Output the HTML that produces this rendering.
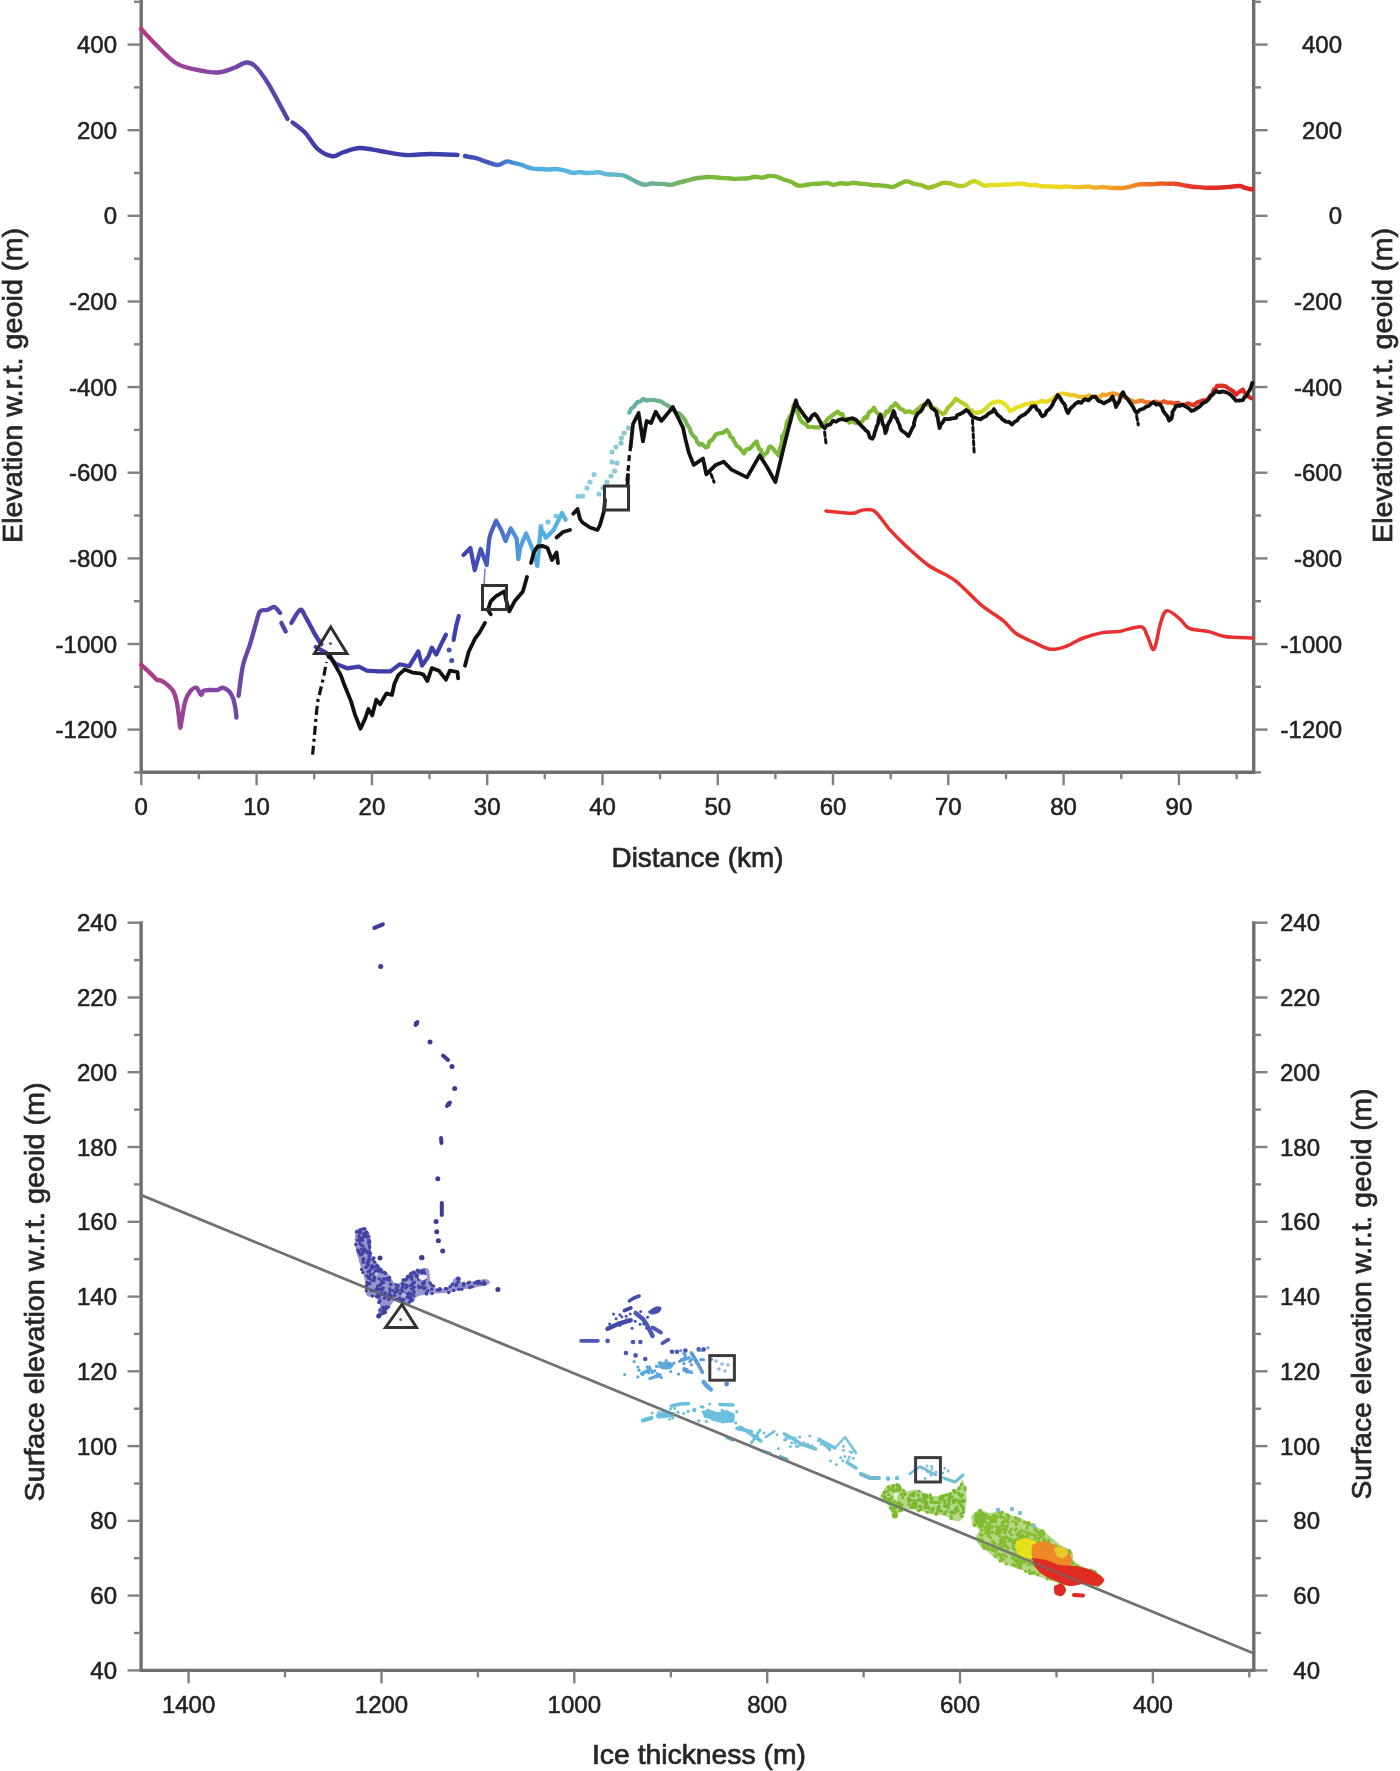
<!DOCTYPE html>
<html><head><meta charset="utf-8"><style>
html,body{margin:0;padding:0;background:#fff;}
svg{display:block;filter:blur(0.7px);}
.tl{font-family:"Liberation Sans", sans-serif;font-size:24px;fill:#222;stroke:#222;stroke-width:0.55px;}
.ti{font-family:"Liberation Sans", sans-serif;font-size:28px;fill:#262626;stroke:#262626;stroke-width:0.7px;}
</style></head><body>
<svg width="1400" height="1771" viewBox="0 0 1400 1771">
<defs><linearGradient id="rb" gradientUnits="userSpaceOnUse" x1="140" y1="0" x2="1253" y2="0"><stop offset="0.0000" stop-color="#b63882"/><stop offset="0.0180" stop-color="#a83e8e"/><stop offset="0.0449" stop-color="#9444a0"/><stop offset="0.0719" stop-color="#8044a6"/><stop offset="0.0943" stop-color="#6c46aa"/><stop offset="0.1348" stop-color="#5042aa"/><stop offset="0.1707" stop-color="#3e3ca6"/><stop offset="0.2875" stop-color="#3c40ac"/><stop offset="0.3127" stop-color="#4858bc"/><stop offset="0.3279" stop-color="#4878d0"/><stop offset="0.3459" stop-color="#50a6e0"/><stop offset="0.3774" stop-color="#54b4e2"/><stop offset="0.4088" stop-color="#60bcd8"/><stop offset="0.4358" stop-color="#62b4b8"/><stop offset="0.4627" stop-color="#6cb094"/><stop offset="0.4897" stop-color="#76b458"/><stop offset="0.5166" stop-color="#7ab83a"/><stop offset="0.6828" stop-color="#84ba30"/><stop offset="0.7278" stop-color="#a6c42a"/><stop offset="0.7592" stop-color="#d8dc22"/><stop offset="0.7727" stop-color="#e6e020"/><stop offset="0.8266" stop-color="#ecd820"/><stop offset="0.8580" stop-color="#f0b02a"/><stop offset="0.8940" stop-color="#f08424"/><stop offset="0.9209" stop-color="#ea5a22"/><stop offset="0.9479" stop-color="#e23428"/><stop offset="1.0000" stop-color="#e02424"/></linearGradient></defs>
<rect width="1400" height="1771" fill="#fff"/>
<line x1="141.2" y1="0" x2="141.2" y2="774" stroke="#6e6e6e" stroke-width="3.4"/>
<line x1="1253.7" y1="0" x2="1253.7" y2="774" stroke="#6e6e6e" stroke-width="3.4"/>
<line x1="139.5" y1="772.2" x2="1255.4" y2="772.2" stroke="#6e6e6e" stroke-width="3.4"/>
<line x1="134" y1="772.4" x2="141" y2="772.4" stroke="#808080" stroke-width="2.4"/>
<line x1="1254" y1="772.4" x2="1261" y2="772.4" stroke="#808080" stroke-width="2.4"/>
<line x1="127.5" y1="729.6" x2="141" y2="729.6" stroke="#808080" stroke-width="2.4"/>
<line x1="1254" y1="729.6" x2="1267.5" y2="729.6" stroke="#808080" stroke-width="2.4"/>
<text x="117" y="738.1" text-anchor="end" class="tl">-1200</text>
<text x="1342" y="738.1" text-anchor="end" class="tl">-1200</text>
<line x1="134" y1="686.8" x2="141" y2="686.8" stroke="#808080" stroke-width="2.4"/>
<line x1="1254" y1="686.8" x2="1261" y2="686.8" stroke="#808080" stroke-width="2.4"/>
<line x1="127.5" y1="644.0" x2="141" y2="644.0" stroke="#808080" stroke-width="2.4"/>
<line x1="1254" y1="644.0" x2="1267.5" y2="644.0" stroke="#808080" stroke-width="2.4"/>
<text x="117" y="652.5" text-anchor="end" class="tl">-1000</text>
<text x="1342" y="652.5" text-anchor="end" class="tl">-1000</text>
<line x1="134" y1="601.2" x2="141" y2="601.2" stroke="#808080" stroke-width="2.4"/>
<line x1="1254" y1="601.2" x2="1261" y2="601.2" stroke="#808080" stroke-width="2.4"/>
<line x1="127.5" y1="558.4" x2="141" y2="558.4" stroke="#808080" stroke-width="2.4"/>
<line x1="1254" y1="558.4" x2="1267.5" y2="558.4" stroke="#808080" stroke-width="2.4"/>
<text x="117" y="566.9" text-anchor="end" class="tl">-800</text>
<text x="1342" y="566.9" text-anchor="end" class="tl">-800</text>
<line x1="134" y1="515.5" x2="141" y2="515.5" stroke="#808080" stroke-width="2.4"/>
<line x1="1254" y1="515.5" x2="1261" y2="515.5" stroke="#808080" stroke-width="2.4"/>
<line x1="127.5" y1="472.7" x2="141" y2="472.7" stroke="#808080" stroke-width="2.4"/>
<line x1="1254" y1="472.7" x2="1267.5" y2="472.7" stroke="#808080" stroke-width="2.4"/>
<text x="117" y="481.2" text-anchor="end" class="tl">-600</text>
<text x="1342" y="481.2" text-anchor="end" class="tl">-600</text>
<line x1="134" y1="429.9" x2="141" y2="429.9" stroke="#808080" stroke-width="2.4"/>
<line x1="1254" y1="429.9" x2="1261" y2="429.9" stroke="#808080" stroke-width="2.4"/>
<line x1="127.5" y1="387.1" x2="141" y2="387.1" stroke="#808080" stroke-width="2.4"/>
<line x1="1254" y1="387.1" x2="1267.5" y2="387.1" stroke="#808080" stroke-width="2.4"/>
<text x="117" y="395.6" text-anchor="end" class="tl">-400</text>
<text x="1342" y="395.6" text-anchor="end" class="tl">-400</text>
<line x1="134" y1="344.3" x2="141" y2="344.3" stroke="#808080" stroke-width="2.4"/>
<line x1="1254" y1="344.3" x2="1261" y2="344.3" stroke="#808080" stroke-width="2.4"/>
<line x1="127.5" y1="301.5" x2="141" y2="301.5" stroke="#808080" stroke-width="2.4"/>
<line x1="1254" y1="301.5" x2="1267.5" y2="301.5" stroke="#808080" stroke-width="2.4"/>
<text x="117" y="310.0" text-anchor="end" class="tl">-200</text>
<text x="1342" y="310.0" text-anchor="end" class="tl">-200</text>
<line x1="134" y1="258.7" x2="141" y2="258.7" stroke="#808080" stroke-width="2.4"/>
<line x1="1254" y1="258.7" x2="1261" y2="258.7" stroke="#808080" stroke-width="2.4"/>
<line x1="127.5" y1="215.8" x2="141" y2="215.8" stroke="#808080" stroke-width="2.4"/>
<line x1="1254" y1="215.8" x2="1267.5" y2="215.8" stroke="#808080" stroke-width="2.4"/>
<text x="117" y="224.3" text-anchor="end" class="tl">0</text>
<text x="1342" y="224.3" text-anchor="end" class="tl">0</text>
<line x1="134" y1="173.0" x2="141" y2="173.0" stroke="#808080" stroke-width="2.4"/>
<line x1="1254" y1="173.0" x2="1261" y2="173.0" stroke="#808080" stroke-width="2.4"/>
<line x1="127.5" y1="130.2" x2="141" y2="130.2" stroke="#808080" stroke-width="2.4"/>
<line x1="1254" y1="130.2" x2="1267.5" y2="130.2" stroke="#808080" stroke-width="2.4"/>
<text x="117" y="138.7" text-anchor="end" class="tl">200</text>
<text x="1342" y="138.7" text-anchor="end" class="tl">200</text>
<line x1="134" y1="87.4" x2="141" y2="87.4" stroke="#808080" stroke-width="2.4"/>
<line x1="1254" y1="87.4" x2="1261" y2="87.4" stroke="#808080" stroke-width="2.4"/>
<line x1="127.5" y1="44.6" x2="141" y2="44.6" stroke="#808080" stroke-width="2.4"/>
<line x1="1254" y1="44.6" x2="1267.5" y2="44.6" stroke="#808080" stroke-width="2.4"/>
<text x="117" y="53.1" text-anchor="end" class="tl">400</text>
<text x="1342" y="53.1" text-anchor="end" class="tl">400</text>
<line x1="134" y1="1.8" x2="141" y2="1.8" stroke="#808080" stroke-width="2.4"/>
<line x1="1254" y1="1.8" x2="1261" y2="1.8" stroke="#808080" stroke-width="2.4"/>
<line x1="141.3" y1="773" x2="141.3" y2="785.2" stroke="#808080" stroke-width="2.4"/>
<text x="141.3" y="814.5" text-anchor="middle" class="tl">0</text>
<line x1="198.9" y1="773" x2="198.9" y2="779.2" stroke="#808080" stroke-width="2.4"/>
<line x1="256.6" y1="773" x2="256.6" y2="785.2" stroke="#808080" stroke-width="2.4"/>
<text x="256.6" y="814.5" text-anchor="middle" class="tl">10</text>
<line x1="314.2" y1="773" x2="314.2" y2="779.2" stroke="#808080" stroke-width="2.4"/>
<line x1="371.9" y1="773" x2="371.9" y2="785.2" stroke="#808080" stroke-width="2.4"/>
<text x="371.9" y="814.5" text-anchor="middle" class="tl">20</text>
<line x1="429.5" y1="773" x2="429.5" y2="779.2" stroke="#808080" stroke-width="2.4"/>
<line x1="487.2" y1="773" x2="487.2" y2="785.2" stroke="#808080" stroke-width="2.4"/>
<text x="487.2" y="814.5" text-anchor="middle" class="tl">30</text>
<line x1="544.8" y1="773" x2="544.8" y2="779.2" stroke="#808080" stroke-width="2.4"/>
<line x1="602.5" y1="773" x2="602.5" y2="785.2" stroke="#808080" stroke-width="2.4"/>
<text x="602.5" y="814.5" text-anchor="middle" class="tl">40</text>
<line x1="660.1" y1="773" x2="660.1" y2="779.2" stroke="#808080" stroke-width="2.4"/>
<line x1="717.8" y1="773" x2="717.8" y2="785.2" stroke="#808080" stroke-width="2.4"/>
<text x="717.8" y="814.5" text-anchor="middle" class="tl">50</text>
<line x1="775.4" y1="773" x2="775.4" y2="779.2" stroke="#808080" stroke-width="2.4"/>
<line x1="833.0" y1="773" x2="833.0" y2="785.2" stroke="#808080" stroke-width="2.4"/>
<text x="833.0" y="814.5" text-anchor="middle" class="tl">60</text>
<line x1="890.7" y1="773" x2="890.7" y2="779.2" stroke="#808080" stroke-width="2.4"/>
<line x1="948.3" y1="773" x2="948.3" y2="785.2" stroke="#808080" stroke-width="2.4"/>
<text x="948.3" y="814.5" text-anchor="middle" class="tl">70</text>
<line x1="1006.0" y1="773" x2="1006.0" y2="779.2" stroke="#808080" stroke-width="2.4"/>
<line x1="1063.6" y1="773" x2="1063.6" y2="785.2" stroke="#808080" stroke-width="2.4"/>
<text x="1063.6" y="814.5" text-anchor="middle" class="tl">80</text>
<line x1="1121.3" y1="773" x2="1121.3" y2="779.2" stroke="#808080" stroke-width="2.4"/>
<line x1="1178.9" y1="773" x2="1178.9" y2="785.2" stroke="#808080" stroke-width="2.4"/>
<text x="1178.9" y="814.5" text-anchor="middle" class="tl">90</text>
<line x1="1236.6" y1="773" x2="1236.6" y2="779.2" stroke="#808080" stroke-width="2.4"/>
<text x="697.5" y="867" text-anchor="middle" class="ti" textLength="172" lengthAdjust="spacingAndGlyphs">Distance (km)</text>
<text transform="translate(22,385.5) rotate(-90)" text-anchor="middle" class="ti" textLength="315" lengthAdjust="spacingAndGlyphs">Elevation w.r.t. geoid (m)</text>
<text transform="translate(1392,385.5) rotate(-90)" text-anchor="middle" class="ti" textLength="315" lengthAdjust="spacingAndGlyphs">Elevation w.r.t. geoid (m)</text>
<path d="M141.3,664.9 C142.9,666.4 148.1,671.1 150.7,673.6 C153.3,676.1 155.3,678.8 157.0,679.9 C158.7,681.0 159.1,679.6 160.9,680.5 C162.7,681.4 165.9,683.5 168.0,685.4 C170.1,687.2 172.1,689.0 173.5,691.6 C174.9,694.2 175.7,696.9 176.6,701.1 C177.5,705.3 178.4,712.3 179.0,716.8 C179.6,721.2 179.7,727.7 180.2,727.8 C180.7,727.9 181.2,722.0 182.1,717.6 C182.9,713.2 184.0,705.4 185.3,701.1 C186.6,696.8 188.2,693.8 190.0,691.6 C191.8,689.4 194.5,687.2 196.3,687.7 C198.1,688.2 199.8,694.3 201.0,694.8 C202.2,695.3 202.0,691.7 203.4,690.9 C204.8,690.1 207.2,690.1 209.6,690.0 C211.9,689.9 215.3,690.4 217.5,690.0 C219.7,689.6 221.0,687.4 223.0,687.7 C225.0,688.0 227.6,689.8 229.3,691.6 C231.0,693.4 232.1,695.7 233.2,698.7 C234.2,701.7 235.1,706.6 235.6,709.7 C236.1,712.9 236.3,716.3 236.4,717.6" fill="none" stroke="url(#rb)" stroke-width="4.4" stroke-linejoin="round" stroke-linecap="round"/>
<path d="M238.6,695.7 C239.3,690.7 241.0,674.3 242.9,665.7 C244.8,657.1 247.9,651.2 250.0,644.3 C252.1,637.4 254.0,629.8 255.7,624.3 C257.4,618.8 258.1,613.8 260.0,611.4 C261.9,609.0 264.7,610.7 267.1,610.0 C269.5,609.3 272.2,606.6 274.3,607.1 C276.4,607.6 279.1,611.9 280.0,612.9" fill="none" stroke="url(#rb)" stroke-width="4.4" stroke-linejoin="round" stroke-linecap="round"/>
<path d="M281.4,622.9 L285.7,631.4" fill="none" stroke="url(#rb)" stroke-width="4.4" stroke-linejoin="round" stroke-linecap="round"/>
<path d="M291.4,622.9 C292.8,620.8 297.6,611.0 300.0,610.0 C302.4,609.0 303.1,612.8 305.7,617.1 C308.3,621.4 313.1,631.2 315.7,635.7 C318.3,640.2 320.4,642.9 321.4,644.3" fill="none" stroke="url(#rb)" stroke-width="4.4" stroke-linejoin="round" stroke-linecap="round"/>
<polyline points="315.7,647.0 326.0,652.6 335.4,663.6 347.1,668.3 358.9,666.7 366.8,670.6 378.6,671.4 390.4,671.4 399.6,664.3 409.3,666.2 418.3,651.4 422.1,665.6 428.6,656.0 431.8,647.6 436.3,654.6 441.4,643.7 445.9,634.7" fill="none" stroke="url(#rb)" stroke-width="4.2" stroke-linejoin="round" stroke-linecap="round"/>
<polyline points="453.6,639.9 456.2,625.7 458.8,616.0" fill="none" stroke="url(#rb)" stroke-width="4.2" stroke-linejoin="round" stroke-linecap="round"/>
<polyline points="463.6,554.9 470.4,548.0 474.7,570.3 480.7,548.9 486.7,565.1 489.3,538.6 491.0,532.6 496.1,520.6 501.3,530.0 505.6,541.1 510.7,528.3 516.7,538.6 518.4,559.1 520.1,548.0 526.1,533.4 532.1,548.0 537.3,566.0 540.7,528.3 545.9,537.7 553.6,530.0 562.1,512.9 565.6,519.7" fill="none" stroke="url(#rb)" stroke-width="4.2" stroke-linejoin="round" stroke-linecap="round"/>
<polyline points="629.3,412.7 631.2,408.6 634.0,406.6 637.2,402.1 640.0,401.7 643.3,399.0 647.1,400.6 650.0,399.8 654.3,400.0 657.7,400.8 661.4,401.6 664.0,403.6 666.7,405.0 670.0,407.1 673.1,409.2 675.6,413.2 678.6,413.2 681.5,415.5 684.3,418.9 685.9,421.6 687.3,425.0 689.8,428.5 690.6,431.7 692.8,435.5 695.5,437.9 696.9,441.3 699.4,444.9 701.9,443.7 705.4,447.4 707.9,446.7 709.5,441.4 712.0,440.1 713.6,438.0 715.7,434.5 719.4,433.3 722.9,432.7 726.7,430.0 729.2,433.1 730.5,436.8 732.8,438.3 734.6,442.3 736.8,446.0 739.3,447.5 741.7,450.5 744.0,453.3 746.5,449.2 749.7,448.7 751.2,447.1 754.2,443.8 756.6,441.5 758.2,446.6 759.3,449.2 761.1,450.0 761.4,454.8 762.8,457.2 764.2,454.3 767.2,452.7 768.9,447.4 770.7,446.4 773.5,449.1 774.9,451.4 776.0,451.9 778.6,455.5 778.9,453.9 779.9,448.6 780.9,446.0 781.9,442.4 782.1,436.0 783.3,435.5 784.4,432.7 785.8,429.2 786.2,426.6 786.9,422.1 788.2,420.2 789.6,416.8 791.5,414.4 792.4,410.8 793.2,407.0 794.3,404.3 795.3,405.0 796.1,409.0 798.0,413.6 799.3,417.4 800.0,418.9 802.6,422.5 806.0,424.3 808.0,427.0 812.3,427.0 815.2,427.4 819.7,427.4 821.5,425.3 823.7,423.2 825.2,422.6 828.0,418.5 831.8,415.9 834.2,413.9 837.8,411.6 840.3,414.2 842.5,414.2 844.3,419.4 847.1,419.0 849.3,422.6 852.3,420.9 855.5,423.0 859.0,422.7 862.4,421.3 864.8,417.2 866.8,418.0 869.0,412.2 872.1,410.5 873.9,407.7 875.9,411.6 877.3,413.2 879.6,414.1 882.0,417.9 883.9,416.5 886.4,411.3 888.2,411.9 891.2,407.0 894.0,405.2 895.3,403.1 897.3,405.2 900.5,409.1 903.0,409.5 905.1,412.2 909.0,411.3 913.4,413.1 916.2,410.4 919.2,407.7 921.8,405.9 924.9,404.5 927.3,404.6 930.3,405.7 933.7,408.0 936.4,409.1 939.2,412.0 943.0,413.9 945.3,412.7 947.3,408.6 949.2,406.4 951.8,403.9 953.7,401.7 956.0,398.6 958.8,400.6 961.2,402.4 964.3,403.9 966.4,405.3 969.3,410.2 972.0,410.4 974.1,412.6 977.3,412.6 981.2,412.0 984.0,410.0 986.7,407.7 989.3,404.8 992.2,402.6 995.2,402.2 997.9,401.3 1002.0,402.2 1004.8,404.3 1007.5,407.0 1010.0,411.1 1012.8,410.1 1015.5,407.8 1019.8,406.5 1021.8,405.8 1024.9,404.3 1028.6,403.7 1032.0,402.7 1035.8,403.3 1038.7,402.1 1041.8,400.8 1045.7,402.0 1048.5,401.0 1051.9,399.4 1055.2,396.7 1058.7,394.7 1061.0,393.5 1063.9,393.5 1067.7,394.3 1070.1,395.2 1073.9,395.2 1076.6,395.8 1079.6,397.0 1083.1,397.2 1085.6,396.8 1089.1,395.2 1092.0,397.1 1095.9,396.5 1098.7,397.9 1102.4,394.6 1105.7,395.1 1109.5,394.0 1112.6,393.4 1115.4,393.9 1118.6,394.8 1122.0,396.5 1125.2,397.4 1127.9,399.2 1131.4,400.6 1134.7,402.0 1137.9,401.4 1141.7,400.4 1145.4,402.1 1148.6,402.3 1151.0,402.8 1155.3,401.6 1158.8,402.5 1160.9,402.9 1164.4,401.2 1166.9,402.7 1170.9,402.5 1174.0,403.5 1177.9,402.7 1181.0,405.2 1185.2,404.6 1187.9,403.3 1191.4,404.6 1194.1,405.1 1197.3,402.2 1199.5,401.6 1202.5,400.4 1206.0,400.4 1208.6,398.4 1210.3,395.5 1212.0,395.0 1213.8,389.5 1215.9,388.5 1217.0,385.8 1222.6,385.7 1225.7,386.4 1228.2,388.2 1231.0,390.0 1232.9,390.9 1236.0,394.7 1239.4,391.7 1242.9,389.6 1245.4,394.4 1248.6,396.3 1251.0,398.2" fill="none" stroke="url(#rb)" stroke-width="4.2" stroke-linejoin="round" stroke-linecap="round"/>
<circle cx="541" cy="526" r="2.6" fill="url(#rb)" opacity="0.75"/>
<circle cx="548" cy="522" r="2.6" fill="url(#rb)" opacity="0.75"/>
<circle cx="556" cy="516" r="2.6" fill="url(#rb)" opacity="0.75"/>
<circle cx="562" cy="514" r="2.6" fill="url(#rb)" opacity="0.75"/>
<circle cx="578" cy="496.3" r="2.6" fill="url(#rb)" opacity="0.75"/>
<circle cx="582.6" cy="496" r="2.6" fill="url(#rb)" opacity="0.75"/>
<circle cx="587" cy="488" r="2.6" fill="url(#rb)" opacity="0.75"/>
<circle cx="590" cy="482" r="2.6" fill="url(#rb)" opacity="0.75"/>
<circle cx="594" cy="474.6" r="2.6" fill="url(#rb)" opacity="0.75"/>
<circle cx="599" cy="494" r="2.6" fill="url(#rb)" opacity="0.75"/>
<circle cx="603" cy="488" r="2.6" fill="url(#rb)" opacity="0.75"/>
<circle cx="607" cy="482" r="2.6" fill="url(#rb)" opacity="0.75"/>
<circle cx="611" cy="476" r="2.6" fill="url(#rb)" opacity="0.75"/>
<circle cx="614.6" cy="471" r="2.6" fill="url(#rb)" opacity="0.75"/>
<circle cx="612" cy="462" r="2.6" fill="url(#rb)" opacity="0.75"/>
<circle cx="617" cy="463" r="2.6" fill="url(#rb)" opacity="0.75"/>
<circle cx="612" cy="452" r="2.6" fill="url(#rb)" opacity="0.75"/>
<circle cx="616" cy="447" r="2.6" fill="url(#rb)" opacity="0.75"/>
<circle cx="621" cy="443" r="2.6" fill="url(#rb)" opacity="0.75"/>
<circle cx="621.4" cy="438" r="2.6" fill="url(#rb)" opacity="0.75"/>
<circle cx="624" cy="433" r="2.6" fill="url(#rb)" opacity="0.75"/>
<circle cx="628.3" cy="428" r="2.6" fill="url(#rb)" opacity="0.75"/>
<line x1="485" y1="568.6" x2="484" y2="585.7" stroke="#6a7ac8" stroke-width="1.5"/>
<circle cx="449.1" cy="650.1" r="2.5" fill="#4850b0"/>
<circle cx="451.7" cy="660.4" r="2.5" fill="#4850b0"/>
<polyline points="328.6,657.0 329.9,655.7 340.9,675.4 344.0,684.0 351.0,701.3 355.0,714.6 358.1,722.5 360.5,728.8 365.2,718.6 368.4,709.0 372.3,715.4 376.2,699.7 380.1,704.4 386.4,693.4 392.0,695.0 394.3,684.0 398.2,675.4 404.8,669.4 412.5,672.6 419.6,673.3 423.4,674.6 427.3,681.0 431.8,668.1 438.9,670.7 445.9,679.7 449.8,670.7 457.5,672.0 458.1,678.4" fill="none" stroke="#111" stroke-width="3.8" stroke-linejoin="round" stroke-linecap="round"/>
<polyline points="465.0,665.7 468.6,652.0 475.0,638.6 479.3,632.9 485.0,622.9" fill="none" stroke="#111" stroke-width="3.8" stroke-linejoin="round" stroke-linecap="round"/>
<polyline points="490.7,614.3 487.9,610.0 490.7,601.4 495.7,596.4 504.3,591.4 506.4,601.4 509.3,611.4 515.0,600.7 522.9,591.4 527.0,577.0" fill="none" stroke="#111" stroke-width="3.8" stroke-linejoin="round" stroke-linecap="round"/>
<polyline points="531.0,563.0 534.0,552.0 537.5,546.5 543.0,546.0 547.5,548.0 552.0,560.0 556.5,552.5 558.0,563.0" fill="none" stroke="#111" stroke-width="3.8" stroke-linejoin="round" stroke-linecap="round"/>
<polyline points="556.5,537.5 563.0,532.0 570.0,530.0" fill="none" stroke="#111" stroke-width="3.8" stroke-linejoin="round" stroke-linecap="round"/>
<polyline points="573.3,513.7 577.5,509.0 580.0,519.0 582.5,522.5 590.0,527.5 597.5,530.0 600.0,525.0 604.0,511.0 605.0,500.0" fill="none" stroke="#111" stroke-width="3.8" stroke-linejoin="round" stroke-linecap="round"/>
<polyline points="627.5,485.0 628.0,475.0" fill="none" stroke="#111" stroke-width="3.8" stroke-linejoin="round" stroke-linecap="round"/>
<polyline points="630.6,447.0 633.0,424.0 638.6,413.0 643.0,441.4 646.6,421.0 651.0,423.0 655.7,411.7 661.4,421.0 672.9,407.0 683.0,427.7 685.4,439.0 688.9,452.9 693.7,464.9 703.0,458.6 706.3,474.3 715.7,464.9 723.6,461.7 731.4,469.6 747.0,477.4 759.7,455.4 767.6,468.0 775.4,482.1 783.3,449.1 788.0,430.3 795.9,400.4 797.5,406.1 799.3,408.2 801.5,411.5 803.1,413.6 804.1,415.3 806.6,418.2 808.2,421.1 810.1,419.1 812.2,415.6 814.8,413.9 817.1,416.4 819.3,420.2 821.0,423.7 821.8,425.4 824.6,428.3 826.8,425.3 830.1,424.5 832.9,420.7 836.1,421.8 839.2,419.6 842.7,419.2 846.0,420.3 849.3,418.8 852.5,418.2 855.9,419.7 858.9,423.2 861.0,425.3 863.0,427.3 865.7,430.3 868.2,432.3 869.8,437.5 872.3,438.7 874.0,436.0 874.6,432.9 876.0,429.2 876.4,427.2 878.0,423.4 878.5,420.2 879.2,417.0 880.5,414.7 881.4,418.7 881.9,420.2 882.8,424.3 884.0,425.7 884.7,429.1 885.4,433.2 886.9,429.0 887.3,426.1 888.9,422.6 890.2,420.6 891.3,417.6 892.8,413.4 893.6,411.0 894.8,413.7 895.1,417.0 896.8,418.7 898.2,422.3 899.7,425.5 900.4,428.6 901.9,430.7 905.3,433.0 908.4,436.1 909.6,434.0 911.0,431.0 912.2,428.5 914.2,424.9 913.9,423.3 915.6,417.3 916.1,416.2 918.3,412.9 920.7,411.4 922.1,409.4 924.1,404.9 926.2,403.2 928.1,400.5 930.2,403.7 931.4,407.7 934.1,409.6 936.4,411.8 936.7,415.2 937.6,416.7 938.5,422.2 938.5,422.7 939.6,428.0 941.0,424.2 943.0,421.9 944.6,418.9 949.0,419.2 952.1,418.4 956.0,417.9 957.3,415.0 960.6,413.9 963.6,412.2 965.9,410.0 968.5,411.5 970.4,414.3 972.5,416.7 976.6,418.3 980.7,419.3 983.2,417.4 986.0,416.2 988.6,413.5 992.3,411.8 993.9,409.1 996.1,412.7 997.5,414.8 1000.3,416.9 1002.0,419.0 1005.7,421.6 1009.1,422.0 1012.0,424.5 1014.6,421.8 1017.4,420.3 1018.8,418.1 1021.8,415.8 1024.8,414.3 1028.6,410.9 1031.9,406.3 1035.4,406.1 1037.0,409.7 1039.0,410.6 1040.8,414.4 1042.3,416.4 1045.0,414.9 1046.7,410.9 1048.9,409.7 1050.9,407.1 1052.6,404.5 1053.8,401.6 1056.0,398.3 1057.7,394.9 1060.0,397.7 1062.4,402.0 1064.6,404.4 1065.6,407.6 1066.6,410.5 1068.0,413.0 1070.3,408.8 1073.1,406.2 1074.9,404.2 1078.4,401.9 1081.1,402.9 1084.6,399.2 1088.6,400.3 1091.9,397.0 1095.4,396.7 1098.2,400.8 1101.0,401.6 1104.0,403.4 1107.1,401.4 1109.7,400.3 1112.6,396.5 1113.7,400.3 1114.9,402.2 1116.0,407.0 1117.5,404.1 1119.0,401.8 1120.8,396.3 1121.3,394.7 1122.9,392.2 1124.8,395.9 1127.4,398.8 1129.7,401.9 1130.8,403.7 1133.1,407.0 1134.6,410.1 1136.6,413.0 1139.9,409.8 1143.4,408.7 1146.6,406.4 1148.8,406.0 1151.5,403.3 1153.7,402.2 1156.2,404.6 1159.5,403.8 1162.3,408.0 1163.0,410.6 1165.5,414.1 1167.6,416.5 1169.1,420.6 1171.5,418.5 1172.4,415.0 1172.4,412.0 1174.4,409.2 1176.0,405.8 1179.4,405.9 1182.9,404.6 1185.4,406.4 1188.6,408.1 1191.4,411.0 1194.1,410.1 1197.9,407.7 1200.0,406.3 1203.2,402.9 1205.6,402.0 1208.6,399.3 1211.1,395.6 1213.4,394.0 1215.4,391.1 1219.4,392.4 1222.5,391.4 1225.7,392.1 1228.4,393.4 1230.5,394.6 1232.9,397.3 1236.0,400.6 1239.4,400.5 1242.9,400.2 1244.1,397.6 1246.5,396.0 1248.0,392.8 1249.7,390.1 1250.9,387.4 1252.3,382.9" fill="none" stroke="#111" stroke-width="3.8" stroke-linejoin="round" stroke-linecap="round"/>
<polyline points="312.6,754.7 314.5,735 316.5,712 318,700 321,688 324,675 326.5,662" fill="none" stroke="#111" stroke-width="3.2" stroke-dasharray="9,4,3,4"/>
<polyline points="627,481 628.5,466 629.4,455 630.6,447" fill="none" stroke="#111" stroke-width="3.2" stroke-dasharray="6,4"/>
<line x1="711" y1="474" x2="714.1" y2="482.1" stroke="#111" stroke-width="3" stroke-dasharray="4,3" stroke-linecap="round"/>
<line x1="824.6" y1="432" x2="826.3" y2="445.6" stroke="#111" stroke-width="3" stroke-dasharray="4,3" stroke-linecap="round"/>
<line x1="972.5" y1="420" x2="974.1" y2="452.1" stroke="#111" stroke-width="3" stroke-dasharray="4,3" stroke-linecap="round"/>
<line x1="1136.6" y1="416" x2="1138.3" y2="424.9" stroke="#111" stroke-width="3" stroke-dasharray="4,3" stroke-linecap="round"/>
<path d="M826.0,511.0 C830.3,511.4 845.9,513.4 851.8,513.3 C857.7,513.2 857.6,510.8 861.4,510.4 C865.1,510.0 869.5,507.7 874.3,511.0 C879.1,514.3 885.0,524.5 890.4,530.4 C895.8,536.3 900.0,540.5 906.4,546.4 C912.8,552.3 921.0,560.1 929.0,565.7 C937.0,571.3 946.0,573.8 954.6,580.2 C963.2,586.6 972.4,597.6 980.4,604.3 C988.4,611.0 997.0,615.6 1002.9,620.4 C1008.8,625.2 1010.4,629.5 1015.7,633.2 C1021.1,637.0 1029.1,640.2 1035.0,642.9 C1040.9,645.6 1045.7,648.8 1051.0,649.3 C1056.3,649.8 1061.6,647.9 1067.0,646.0 C1072.4,644.1 1077.3,640.2 1083.2,638.0 C1089.1,635.8 1096.6,633.7 1102.5,632.6 C1108.4,631.5 1112.2,632.6 1118.6,631.6 C1125.0,630.6 1136.2,626.0 1141.0,626.8 C1145.8,627.6 1145.3,632.6 1147.5,636.4 C1149.7,640.1 1151.8,651.4 1154.0,649.3 C1156.2,647.2 1158.3,630.0 1160.4,623.6 C1162.5,617.2 1163.6,611.5 1166.8,610.7 C1170.0,609.9 1176.0,615.8 1179.7,618.8 C1183.5,621.8 1184.5,626.3 1189.3,628.4 C1194.1,630.5 1202.7,630.3 1208.6,631.6 C1214.5,632.9 1217.3,635.3 1224.7,636.4 C1232.1,637.5 1248.3,637.7 1253.0,638.0" fill="none" stroke="#e83030" stroke-width="3.5" stroke-linejoin="round" stroke-linecap="round"/>
<path d="M141.0,28.8 C143.3,31.2 149.3,38.1 155.0,43.8 C160.7,49.4 168.8,58.3 175.0,62.5 C181.2,66.7 185.4,67.1 192.5,68.8 C199.6,70.4 210.4,72.7 217.5,72.5 C224.6,72.3 230.2,69.2 235.0,67.5 C239.8,65.8 242.7,62.8 246.0,62.5 C249.3,62.2 251.4,62.7 255.0,66.0 C258.6,69.3 263.3,76.0 267.5,82.5 C271.7,89.0 276.7,99.0 280.0,105.0 C283.3,111.0 286.2,116.5 287.5,118.8" fill="none" stroke="url(#rb)" stroke-width="4.4" stroke-linejoin="round" stroke-linecap="round"/>
<path d="M292.5,122.5 C294.6,124.2 300.8,128.1 305.0,132.5 C309.2,136.9 312.9,144.8 317.5,148.8 C322.1,152.7 328.3,155.6 332.5,156.2 C336.7,156.9 337.9,153.9 342.5,152.5 C347.1,151.1 353.8,148.2 360.0,148.0 C366.2,147.8 372.5,149.8 380.0,151.0 C387.5,152.2 396.7,154.5 405.0,155.0 C413.3,155.5 421.2,154.0 430.0,154.0 C438.8,154.0 452.9,154.8 457.5,155.0" fill="none" stroke="url(#rb)" stroke-width="4.4" stroke-linejoin="round" stroke-linecap="round"/>
<path d="M465.0,156.0 C465.8,156.2 468.0,156.6 470.0,157.0 C472.0,157.4 474.8,157.6 477.1,158.3 C479.5,159.0 481.9,160.3 484.3,161.2 C486.7,162.0 489.1,162.8 491.5,163.5 C493.8,164.1 496.0,165.2 498.6,164.9 C501.2,164.6 504.5,161.7 507.0,161.4 C509.5,161.1 511.3,162.4 513.5,162.9 C515.7,163.4 517.8,163.6 520.0,164.3 C522.2,164.9 524.3,166.0 526.5,166.8 C528.7,167.5 530.7,168.2 533.0,168.6 C535.3,169.0 538.0,168.9 540.6,169.0 C543.1,169.1 545.6,169.5 548.1,169.5 C550.7,169.5 553.0,168.9 555.7,169.0 C558.4,169.1 561.5,169.6 564.4,170.3 C567.2,170.9 570.5,172.6 573.0,172.9 C575.5,173.2 577.3,172.0 579.4,172.0 C581.5,172.1 583.7,172.9 585.8,173.0 C587.9,173.1 590.1,172.8 592.2,172.7 C594.3,172.6 596.5,172.1 598.6,172.3 C600.7,172.5 602.8,173.6 605.0,174.0 C607.1,174.4 609.2,174.4 611.3,174.5 C613.4,174.7 615.5,174.6 617.6,174.8 C619.8,175.0 621.7,175.0 624.0,175.7 C626.3,176.4 628.9,177.9 631.3,179.1 C633.7,180.3 636.3,182.0 638.6,182.9 C640.9,183.8 642.8,184.6 644.9,184.7 C647.0,184.8 649.1,183.7 651.2,183.5 C653.3,183.4 655.3,183.6 657.4,183.7 C659.5,183.7 661.6,183.7 663.7,183.9 C665.8,184.1 667.7,185.0 670.0,184.9 C672.3,184.8 675.1,183.6 677.6,183.0 C680.2,182.3 682.7,181.7 685.3,181.0 C687.8,180.4 690.5,179.5 692.9,179.0 C695.3,178.5 697.6,178.1 700.0,177.8 C702.3,177.5 704.7,177.1 707.0,177.0 C709.3,176.9 711.5,177.2 713.8,177.3 C716.1,177.4 718.3,177.6 720.6,177.8 C722.9,178.0 725.1,178.2 727.4,178.3 C729.7,178.5 731.9,178.8 734.2,178.9 C736.5,178.9 738.7,178.7 741.0,178.6 C743.3,178.5 745.6,178.6 747.9,178.3 C750.3,177.9 752.6,176.8 754.9,176.7 C757.2,176.6 759.5,177.7 761.8,177.6 C764.1,177.5 766.4,176.2 768.8,176.0 C771.1,175.8 773.3,175.7 775.7,176.3 C778.1,176.9 780.8,178.4 783.3,179.3 C785.9,180.2 788.4,180.7 791.0,181.8 C793.5,182.8 796.1,185.2 798.6,185.7 C801.1,186.2 803.3,185.3 805.7,185.0 C808.1,184.7 810.4,184.1 812.8,183.9 C815.2,183.7 817.5,183.9 819.9,183.7 C822.3,183.6 824.7,182.7 827.0,182.9 C829.3,183.1 831.4,184.8 833.6,184.9 C835.8,184.9 838.0,183.4 840.2,183.2 C842.4,183.0 844.6,183.9 846.8,183.8 C849.0,183.8 851.2,182.8 853.4,182.8 C855.6,182.8 857.8,183.5 860.0,183.7 C862.2,183.9 864.5,183.9 866.8,184.1 C869.1,184.4 871.3,185.0 873.6,185.2 C875.9,185.4 878.1,185.2 880.4,185.4 C882.7,185.6 884.9,186.0 887.2,186.2 C889.5,186.4 890.9,187.4 894.0,186.6 C897.1,185.8 902.5,181.9 905.7,181.4 C908.9,180.9 910.8,182.9 913.3,183.6 C915.9,184.2 918.4,184.4 921.0,185.0 C923.5,185.7 926.1,187.6 928.6,187.7 C931.1,187.8 933.4,186.4 935.8,185.6 C938.2,184.8 940.6,183.3 943.0,182.9 C945.4,182.5 947.9,182.9 950.3,183.3 C952.8,183.8 955.2,185.3 957.7,185.7 C960.1,186.0 962.3,186.3 965.0,185.5 C967.7,184.7 970.8,181.0 974.0,181.0 C977.2,181.0 981.2,184.9 984.0,185.5 C986.8,186.1 988.4,184.9 990.6,184.9 C992.8,184.8 995.0,185.2 997.2,185.2 C999.4,185.1 1001.6,184.5 1003.8,184.4 C1006.0,184.3 1008.2,184.7 1010.4,184.6 C1012.6,184.5 1014.9,183.8 1017.0,183.7 C1019.1,183.6 1021.1,183.6 1023.1,183.8 C1025.2,184.1 1027.2,185.0 1029.3,185.2 C1031.3,185.4 1033.4,184.9 1035.4,185.0 C1037.5,185.2 1039.5,186.1 1041.6,186.3 C1043.6,186.5 1045.7,186.3 1047.7,186.4 C1049.8,186.5 1051.8,186.5 1053.9,186.6 C1055.9,186.7 1057.8,187.0 1060.0,187.0 C1062.2,187.0 1064.8,186.4 1067.2,186.5 C1069.5,186.5 1071.9,187.1 1074.3,187.2 C1076.7,187.3 1079.1,187.1 1081.4,187.0 C1083.8,186.9 1086.3,186.5 1088.6,186.6 C1090.9,186.7 1093.2,187.7 1095.5,187.8 C1097.8,187.8 1100.1,187.0 1102.4,187.0 C1104.7,186.9 1106.9,187.6 1109.2,187.7 C1111.5,187.9 1113.8,188.0 1116.1,188.0 C1118.4,188.0 1120.4,188.3 1123.0,188.0 C1125.6,187.7 1128.7,186.9 1131.5,186.3 C1134.3,185.7 1137.4,184.6 1140.0,184.3 C1142.6,184.0 1144.8,184.3 1147.2,184.3 C1149.5,184.2 1151.9,184.2 1154.3,184.1 C1156.7,184.0 1159.1,183.6 1161.4,183.5 C1163.8,183.5 1166.4,183.7 1168.6,183.7 C1170.8,183.7 1172.6,183.6 1174.7,183.7 C1176.7,183.9 1178.7,184.3 1180.7,184.6 C1182.7,185.0 1184.8,185.4 1186.8,185.7 C1188.8,186.1 1190.8,186.6 1192.8,186.8 C1194.8,187.0 1196.9,186.9 1198.9,187.1 C1200.9,187.2 1202.9,187.6 1204.9,187.7 C1207.0,187.8 1208.8,187.7 1211.0,187.7 C1213.2,187.7 1215.8,187.8 1218.2,187.7 C1220.7,187.6 1223.1,187.4 1225.5,187.2 C1227.9,187.0 1230.3,186.7 1232.8,186.5 C1235.2,186.3 1237.8,185.7 1240.0,186.0 C1242.2,186.3 1244.0,187.6 1246.0,188.1 C1248.0,188.7 1251.0,189.2 1252.0,189.4" fill="none" stroke="url(#rb)" stroke-width="4.4" stroke-linejoin="round" stroke-linecap="round"/>
<polygon points="330.7,627 314.5,653.4 347,653.4" fill="none" stroke="#2e2e2e" stroke-width="3"/>
<circle cx="330.5" cy="643.5" r="1.6" fill="#666"/>
<rect x="482.5" y="585.5" width="24" height="24" fill="none" stroke="#333" stroke-width="3"/>
<rect x="604.5" y="486" width="24" height="24" fill="none" stroke="#333" stroke-width="3"/>
<line x1="141.1" y1="921.2" x2="141.1" y2="1672" stroke="#6e6e6e" stroke-width="3.4"/>
<line x1="1253.8" y1="921.2" x2="1253.8" y2="1672" stroke="#6e6e6e" stroke-width="3.4"/>
<line x1="139.4" y1="1670.4" x2="1255.5" y2="1670.4" stroke="#6e6e6e" stroke-width="3.4"/>
<line x1="127.5" y1="1670.4" x2="141" y2="1670.4" stroke="#808080" stroke-width="2.4"/>
<line x1="1254" y1="1670.4" x2="1267.5" y2="1670.4" stroke="#808080" stroke-width="2.4"/>
<text x="117" y="1678.9" text-anchor="end" class="tl">40</text>
<text x="1320" y="1678.9" text-anchor="end" class="tl">40</text>
<line x1="134" y1="1633.0" x2="141" y2="1633.0" stroke="#808080" stroke-width="2.4"/>
<line x1="1254" y1="1633.0" x2="1261" y2="1633.0" stroke="#808080" stroke-width="2.4"/>
<line x1="127.5" y1="1595.6" x2="141" y2="1595.6" stroke="#808080" stroke-width="2.4"/>
<line x1="1254" y1="1595.6" x2="1267.5" y2="1595.6" stroke="#808080" stroke-width="2.4"/>
<text x="117" y="1604.1" text-anchor="end" class="tl">60</text>
<text x="1320" y="1604.1" text-anchor="end" class="tl">60</text>
<line x1="134" y1="1558.2" x2="141" y2="1558.2" stroke="#808080" stroke-width="2.4"/>
<line x1="1254" y1="1558.2" x2="1261" y2="1558.2" stroke="#808080" stroke-width="2.4"/>
<line x1="127.5" y1="1520.9" x2="141" y2="1520.9" stroke="#808080" stroke-width="2.4"/>
<line x1="1254" y1="1520.9" x2="1267.5" y2="1520.9" stroke="#808080" stroke-width="2.4"/>
<text x="117" y="1529.4" text-anchor="end" class="tl">80</text>
<text x="1320" y="1529.4" text-anchor="end" class="tl">80</text>
<line x1="134" y1="1483.5" x2="141" y2="1483.5" stroke="#808080" stroke-width="2.4"/>
<line x1="1254" y1="1483.5" x2="1261" y2="1483.5" stroke="#808080" stroke-width="2.4"/>
<line x1="127.5" y1="1446.1" x2="141" y2="1446.1" stroke="#808080" stroke-width="2.4"/>
<line x1="1254" y1="1446.1" x2="1267.5" y2="1446.1" stroke="#808080" stroke-width="2.4"/>
<text x="117" y="1454.6" text-anchor="end" class="tl">100</text>
<text x="1320" y="1454.6" text-anchor="end" class="tl">100</text>
<line x1="134" y1="1408.7" x2="141" y2="1408.7" stroke="#808080" stroke-width="2.4"/>
<line x1="1254" y1="1408.7" x2="1261" y2="1408.7" stroke="#808080" stroke-width="2.4"/>
<line x1="127.5" y1="1371.3" x2="141" y2="1371.3" stroke="#808080" stroke-width="2.4"/>
<line x1="1254" y1="1371.3" x2="1267.5" y2="1371.3" stroke="#808080" stroke-width="2.4"/>
<text x="117" y="1379.8" text-anchor="end" class="tl">120</text>
<text x="1320" y="1379.8" text-anchor="end" class="tl">120</text>
<line x1="134" y1="1333.9" x2="141" y2="1333.9" stroke="#808080" stroke-width="2.4"/>
<line x1="1254" y1="1333.9" x2="1261" y2="1333.9" stroke="#808080" stroke-width="2.4"/>
<line x1="127.5" y1="1296.6" x2="141" y2="1296.6" stroke="#808080" stroke-width="2.4"/>
<line x1="1254" y1="1296.6" x2="1267.5" y2="1296.6" stroke="#808080" stroke-width="2.4"/>
<text x="117" y="1305.1" text-anchor="end" class="tl">140</text>
<text x="1320" y="1305.1" text-anchor="end" class="tl">140</text>
<line x1="134" y1="1259.2" x2="141" y2="1259.2" stroke="#808080" stroke-width="2.4"/>
<line x1="1254" y1="1259.2" x2="1261" y2="1259.2" stroke="#808080" stroke-width="2.4"/>
<line x1="127.5" y1="1221.8" x2="141" y2="1221.8" stroke="#808080" stroke-width="2.4"/>
<line x1="1254" y1="1221.8" x2="1267.5" y2="1221.8" stroke="#808080" stroke-width="2.4"/>
<text x="117" y="1230.3" text-anchor="end" class="tl">160</text>
<text x="1320" y="1230.3" text-anchor="end" class="tl">160</text>
<line x1="134" y1="1184.4" x2="141" y2="1184.4" stroke="#808080" stroke-width="2.4"/>
<line x1="1254" y1="1184.4" x2="1261" y2="1184.4" stroke="#808080" stroke-width="2.4"/>
<line x1="127.5" y1="1147.0" x2="141" y2="1147.0" stroke="#808080" stroke-width="2.4"/>
<line x1="1254" y1="1147.0" x2="1267.5" y2="1147.0" stroke="#808080" stroke-width="2.4"/>
<text x="117" y="1155.5" text-anchor="end" class="tl">180</text>
<text x="1320" y="1155.5" text-anchor="end" class="tl">180</text>
<line x1="134" y1="1109.6" x2="141" y2="1109.6" stroke="#808080" stroke-width="2.4"/>
<line x1="1254" y1="1109.6" x2="1261" y2="1109.6" stroke="#808080" stroke-width="2.4"/>
<line x1="127.5" y1="1072.2" x2="141" y2="1072.2" stroke="#808080" stroke-width="2.4"/>
<line x1="1254" y1="1072.2" x2="1267.5" y2="1072.2" stroke="#808080" stroke-width="2.4"/>
<text x="117" y="1080.7" text-anchor="end" class="tl">200</text>
<text x="1320" y="1080.7" text-anchor="end" class="tl">200</text>
<line x1="134" y1="1034.9" x2="141" y2="1034.9" stroke="#808080" stroke-width="2.4"/>
<line x1="1254" y1="1034.9" x2="1261" y2="1034.9" stroke="#808080" stroke-width="2.4"/>
<line x1="127.5" y1="997.5" x2="141" y2="997.5" stroke="#808080" stroke-width="2.4"/>
<line x1="1254" y1="997.5" x2="1267.5" y2="997.5" stroke="#808080" stroke-width="2.4"/>
<text x="117" y="1006.0" text-anchor="end" class="tl">220</text>
<text x="1320" y="1006.0" text-anchor="end" class="tl">220</text>
<line x1="134" y1="960.1" x2="141" y2="960.1" stroke="#808080" stroke-width="2.4"/>
<line x1="1254" y1="960.1" x2="1261" y2="960.1" stroke="#808080" stroke-width="2.4"/>
<line x1="127.5" y1="922.7" x2="141" y2="922.7" stroke="#808080" stroke-width="2.4"/>
<line x1="1254" y1="922.7" x2="1267.5" y2="922.7" stroke="#808080" stroke-width="2.4"/>
<text x="117" y="931.2" text-anchor="end" class="tl">240</text>
<text x="1320" y="931.2" text-anchor="end" class="tl">240</text>
<line x1="1249.3" y1="1671" x2="1249.3" y2="1677.4" stroke="#808080" stroke-width="2.4"/>
<line x1="1152.9" y1="1671" x2="1152.9" y2="1683.4" stroke="#808080" stroke-width="2.4"/>
<text x="1152.9" y="1712.5" text-anchor="middle" class="tl">400</text>
<line x1="1056.5" y1="1671" x2="1056.5" y2="1677.4" stroke="#808080" stroke-width="2.4"/>
<line x1="960.0" y1="1671" x2="960.0" y2="1683.4" stroke="#808080" stroke-width="2.4"/>
<text x="960.0" y="1712.5" text-anchor="middle" class="tl">600</text>
<line x1="863.6" y1="1671" x2="863.6" y2="1677.4" stroke="#808080" stroke-width="2.4"/>
<line x1="767.2" y1="1671" x2="767.2" y2="1683.4" stroke="#808080" stroke-width="2.4"/>
<text x="767.2" y="1712.5" text-anchor="middle" class="tl">800</text>
<line x1="670.8" y1="1671" x2="670.8" y2="1677.4" stroke="#808080" stroke-width="2.4"/>
<line x1="574.3" y1="1671" x2="574.3" y2="1683.4" stroke="#808080" stroke-width="2.4"/>
<text x="574.3" y="1712.5" text-anchor="middle" class="tl">1000</text>
<line x1="477.9" y1="1671" x2="477.9" y2="1677.4" stroke="#808080" stroke-width="2.4"/>
<line x1="381.5" y1="1671" x2="381.5" y2="1683.4" stroke="#808080" stroke-width="2.4"/>
<text x="381.5" y="1712.5" text-anchor="middle" class="tl">1200</text>
<line x1="285.0" y1="1671" x2="285.0" y2="1677.4" stroke="#808080" stroke-width="2.4"/>
<line x1="188.6" y1="1671" x2="188.6" y2="1683.4" stroke="#808080" stroke-width="2.4"/>
<text x="188.6" y="1712.5" text-anchor="middle" class="tl">1400</text>
<text x="699" y="1763.5" text-anchor="middle" class="ti" textLength="214" lengthAdjust="spacingAndGlyphs">Ice thickness (m)</text>
<text transform="translate(43.5,1292) rotate(-90)" text-anchor="middle" class="ti" textLength="419" lengthAdjust="spacingAndGlyphs">Surface elevation w.r.t. geoid (m)</text>
<text transform="translate(1371,1294) rotate(-90)" text-anchor="middle" class="ti" textLength="411" lengthAdjust="spacingAndGlyphs">Surface elevation w.r.t. geoid (m)</text>
<line x1="141.5" y1="1195.2" x2="1252.5" y2="1652.9" stroke="#7a7a7a" stroke-width="2.6"/>
<polyline points="374.3,927.9 382.9,924.3" fill="none" stroke="#3c3c96" stroke-width="4" stroke-linecap="round" stroke-linejoin="round" opacity="1.0"/>
<circle cx="380.7" cy="966.4" r="2.5" fill="#3c3c96"/>
<circle cx="416.4" cy="1023.6" r="2.5" fill="#3c3c96"/>
<circle cx="430.0" cy="1042.0" r="2.5" fill="#3c3c96"/>
<circle cx="452.0" cy="1066.4" r="2.5" fill="#3c3c96"/>
<circle cx="454.7" cy="1088.5" r="2.5" fill="#3c3c96"/>
<circle cx="448.5" cy="1104.3" r="2.5" fill="#3c3c96"/>
<circle cx="437.8" cy="1178.8" r="2.5" fill="#3c3c96"/>
<circle cx="436.1" cy="1221.6" r="2.5" fill="#3c3c96"/>
<circle cx="436.7" cy="1231.8" r="2.5" fill="#3c3c96"/>
<circle cx="438.4" cy="1240.8" r="2.5" fill="#3c3c96"/>
<circle cx="442.7" cy="1251.0" r="2.5" fill="#3c3c96"/>
<circle cx="422.0" cy="1257.8" r="2.5" fill="#3c3c96"/>
<polyline points="415.5,1025.0 417.5,1022.0" fill="none" stroke="#3c3c96" stroke-width="4" stroke-linecap="round" stroke-linejoin="round" opacity="1.0"/>
<polyline points="443.0,1055.5 448.0,1060.0" fill="none" stroke="#3c3c96" stroke-width="4" stroke-linecap="round" stroke-linejoin="round" opacity="1.0"/>
<polyline points="447.0,1106.0 450.0,1102.5" fill="none" stroke="#3c3c96" stroke-width="4" stroke-linecap="round" stroke-linejoin="round" opacity="1.0"/>
<polyline points="441.5,1143.0 441.0,1138.0" fill="none" stroke="#3c3c96" stroke-width="4" stroke-linecap="round" stroke-linejoin="round" opacity="1.0"/>
<polyline points="441.8,1203.0 441.8,1215.0" fill="none" stroke="#3c3c96" stroke-width="4" stroke-linecap="round" stroke-linejoin="round" opacity="1.0"/>
<path d="M355.8,1229.5 C357.2,1229.2 361.9,1226.7 364.3,1227.8 C366.7,1228.9 369.2,1231.6 370.4,1236.0 C371.6,1240.4 370.2,1249.2 371.6,1254.0 C373.0,1258.8 376.1,1261.6 378.9,1265.0 C381.7,1268.4 385.8,1271.3 388.6,1274.5 C391.5,1277.7 393.4,1283.2 396.0,1284.0 C398.6,1284.8 401.3,1281.0 404.0,1279.0 C406.7,1277.0 409.3,1273.7 412.0,1272.0 C414.7,1270.3 417.2,1269.2 420.0,1268.8 C422.8,1268.3 426.9,1267.1 428.6,1269.3 C430.4,1271.5 429.3,1278.8 430.5,1282.0 C431.7,1285.2 432.9,1287.5 436.0,1288.4 C439.1,1289.3 446.3,1289.0 449.3,1287.4 C452.3,1285.8 452.3,1280.3 454.1,1278.6 C455.9,1276.9 458.9,1276.3 460.2,1277.0 C461.5,1277.7 459.8,1281.9 462.0,1282.6 C464.2,1283.3 469.7,1281.8 473.6,1281.2 C477.6,1280.6 483.1,1278.6 485.7,1279.0 C488.3,1279.4 491.3,1282.1 489.4,1283.6 C487.4,1285.1 478.7,1287.0 474.0,1288.0 C469.3,1289.0 465.5,1288.7 461.4,1289.4 C457.3,1290.2 454.4,1291.7 449.3,1292.5 C444.2,1293.3 436.4,1293.3 431.1,1294.0 C425.8,1294.7 420.7,1295.1 417.7,1296.5 C414.7,1297.9 414.8,1300.9 412.9,1302.2 C410.9,1303.5 408.6,1305.0 406.0,1304.5 C403.4,1304.0 399.5,1299.4 397.0,1299.5 C394.5,1299.6 393.2,1302.5 391.0,1305.0 C388.8,1307.5 386.2,1312.7 384.0,1314.5 C381.8,1316.3 378.3,1317.2 377.6,1315.6 C376.9,1314.0 380.4,1308.0 380.0,1305.0 C379.6,1302.0 377.4,1299.1 375.2,1297.5 C373.0,1295.9 368.4,1298.1 366.7,1295.3 C365.0,1292.5 366.2,1286.2 365.0,1280.7 C363.8,1275.2 361.1,1268.6 359.4,1262.5 C357.7,1256.4 355.6,1249.8 355.0,1244.3 C354.4,1238.8 355.7,1232.0 355.8,1229.5Z" fill="#4242a4" opacity="0.55"/>
<g fill="#4242a4"><circle cx="362.8" cy="1272.4" r="1.7"/><circle cx="364.4" cy="1235.8" r="1.7"/><circle cx="412.1" cy="1300.4" r="1.7"/><circle cx="396.5" cy="1299.5" r="1.7"/><circle cx="379.3" cy="1278.9" r="1.7"/><circle cx="363.0" cy="1245.9" r="1.7"/><circle cx="461.8" cy="1289.2" r="1.7"/><circle cx="387.8" cy="1278.2" r="1.7"/><circle cx="411.2" cy="1294.3" r="1.7"/><circle cx="375.4" cy="1270.7" r="1.7"/><circle cx="457.8" cy="1278.1" r="1.7"/><circle cx="418.7" cy="1286.1" r="1.7"/><circle cx="406.9" cy="1286.5" r="1.7"/><circle cx="365.8" cy="1267.2" r="1.7"/><circle cx="424.3" cy="1282.0" r="1.7"/><circle cx="368.9" cy="1283.5" r="1.7"/><circle cx="363.4" cy="1233.7" r="1.7"/><circle cx="368.6" cy="1259.7" r="1.7"/><circle cx="417.6" cy="1270.3" r="1.7"/><circle cx="366.5" cy="1236.8" r="1.7"/><circle cx="377.5" cy="1295.6" r="1.7"/><circle cx="385.5" cy="1273.2" r="1.7"/><circle cx="358.8" cy="1252.3" r="1.7"/><circle cx="389.8" cy="1288.6" r="1.7"/><circle cx="366.4" cy="1285.8" r="1.7"/><circle cx="379.0" cy="1297.1" r="1.7"/><circle cx="399.7" cy="1298.1" r="1.7"/><circle cx="387.3" cy="1279.3" r="1.7"/><circle cx="422.4" cy="1274.5" r="1.7"/><circle cx="378.2" cy="1269.4" r="1.7"/><circle cx="369.3" cy="1277.0" r="1.7"/><circle cx="423.8" cy="1288.6" r="1.7"/><circle cx="415.8" cy="1274.6" r="1.7"/><circle cx="371.3" cy="1266.6" r="1.7"/><circle cx="364.8" cy="1248.9" r="1.7"/><circle cx="375.8" cy="1290.7" r="1.7"/><circle cx="384.5" cy="1311.4" r="1.7"/><circle cx="376.7" cy="1265.7" r="1.7"/><circle cx="369.1" cy="1251.1" r="1.7"/><circle cx="431.7" cy="1289.3" r="1.7"/><circle cx="367.0" cy="1232.9" r="1.7"/><circle cx="369.7" cy="1242.0" r="1.7"/><circle cx="361.8" cy="1245.5" r="1.7"/><circle cx="380.5" cy="1269.5" r="1.7"/><circle cx="401.1" cy="1300.9" r="1.7"/><circle cx="362.3" cy="1239.2" r="1.7"/><circle cx="472.0" cy="1286.7" r="1.7"/><circle cx="376.2" cy="1266.9" r="1.7"/><circle cx="418.8" cy="1271.9" r="1.7"/><circle cx="382.0" cy="1272.1" r="1.7"/><circle cx="367.1" cy="1262.9" r="1.7"/><circle cx="360.6" cy="1229.8" r="1.7"/><circle cx="455.9" cy="1285.5" r="1.7"/><circle cx="452.3" cy="1284.3" r="1.7"/><circle cx="474.9" cy="1282.9" r="1.7"/><circle cx="373.7" cy="1273.8" r="1.7"/><circle cx="446.8" cy="1288.7" r="1.7"/><circle cx="372.9" cy="1259.5" r="1.7"/><circle cx="430.1" cy="1282.9" r="1.7"/><circle cx="422.6" cy="1274.8" r="1.7"/><circle cx="365.0" cy="1251.1" r="1.7"/><circle cx="419.4" cy="1287.8" r="1.7"/><circle cx="458.1" cy="1282.0" r="1.7"/><circle cx="363.2" cy="1251.4" r="1.7"/><circle cx="445.3" cy="1288.6" r="1.7"/><circle cx="383.2" cy="1310.8" r="1.7"/><circle cx="383.3" cy="1278.9" r="1.7"/><circle cx="374.0" cy="1273.8" r="1.7"/><circle cx="386.1" cy="1306.6" r="1.7"/><circle cx="373.9" cy="1258.0" r="1.7"/><circle cx="456.2" cy="1284.4" r="1.7"/><circle cx="395.0" cy="1292.7" r="1.7"/><circle cx="382.9" cy="1307.3" r="1.7"/><circle cx="410.6" cy="1273.8" r="1.7"/><circle cx="363.3" cy="1252.2" r="1.7"/><circle cx="422.7" cy="1283.1" r="1.7"/><circle cx="369.7" cy="1241.4" r="1.7"/><circle cx="425.2" cy="1287.7" r="1.7"/><circle cx="416.5" cy="1276.2" r="1.7"/><circle cx="386.3" cy="1308.6" r="1.7"/><circle cx="440.5" cy="1289.1" r="1.7"/><circle cx="425.5" cy="1279.0" r="1.7"/><circle cx="483.9" cy="1284.4" r="1.7"/><circle cx="422.0" cy="1287.0" r="1.7"/><circle cx="384.8" cy="1294.6" r="1.7"/><circle cx="374.7" cy="1262.3" r="1.7"/><circle cx="383.6" cy="1313.3" r="1.7"/><circle cx="363.1" cy="1262.3" r="1.7"/><circle cx="379.9" cy="1310.0" r="1.7"/><circle cx="402.9" cy="1299.9" r="1.7"/><circle cx="361.6" cy="1269.4" r="1.7"/><circle cx="410.2" cy="1299.1" r="1.7"/><circle cx="359.7" cy="1233.3" r="1.7"/><circle cx="483.7" cy="1282.0" r="1.7"/><circle cx="390.2" cy="1290.7" r="1.7"/><circle cx="478.2" cy="1283.5" r="1.7"/><circle cx="381.5" cy="1293.9" r="1.7"/><circle cx="368.0" cy="1271.6" r="1.7"/><circle cx="463.7" cy="1285.2" r="1.7"/><circle cx="360.4" cy="1253.6" r="1.7"/><circle cx="389.9" cy="1296.1" r="1.7"/><circle cx="389.3" cy="1280.4" r="1.7"/><circle cx="363.5" cy="1236.7" r="1.7"/><circle cx="408.1" cy="1276.1" r="1.7"/><circle cx="377.0" cy="1288.9" r="1.7"/><circle cx="412.0" cy="1299.8" r="1.7"/><circle cx="367.0" cy="1282.4" r="1.7"/><circle cx="369.6" cy="1270.9" r="1.7"/><circle cx="476.5" cy="1282.3" r="1.7"/><circle cx="409.4" cy="1302.1" r="1.7"/><circle cx="411.5" cy="1279.0" r="1.7"/><circle cx="412.2" cy="1285.6" r="1.7"/><circle cx="372.3" cy="1265.6" r="1.7"/><circle cx="367.3" cy="1266.6" r="1.7"/><circle cx="381.0" cy="1314.0" r="1.7"/><circle cx="363.8" cy="1258.6" r="1.7"/><circle cx="360.0" cy="1243.8" r="1.7"/><circle cx="377.7" cy="1296.7" r="1.7"/><circle cx="370.5" cy="1274.4" r="1.7"/><circle cx="403.4" cy="1294.9" r="1.7"/><circle cx="433.7" cy="1286.1" r="1.7"/><circle cx="359.5" cy="1240.9" r="1.7"/><circle cx="369.3" cy="1259.2" r="1.7"/><circle cx="385.1" cy="1279.0" r="1.7"/><circle cx="367.9" cy="1283.8" r="1.7"/><circle cx="388.4" cy="1307.1" r="1.7"/><circle cx="381.8" cy="1281.2" r="1.7"/><circle cx="423.1" cy="1284.1" r="1.7"/><circle cx="400.1" cy="1293.6" r="1.7"/><circle cx="390.7" cy="1284.2" r="1.7"/><circle cx="387.1" cy="1307.5" r="1.7"/><circle cx="439.8" cy="1288.6" r="1.7"/><circle cx="413.8" cy="1291.4" r="1.7"/><circle cx="383.5" cy="1282.5" r="1.7"/><circle cx="358.9" cy="1231.5" r="1.7"/><circle cx="448.7" cy="1292.5" r="1.7"/><circle cx="403.8" cy="1299.6" r="1.7"/><circle cx="369.4" cy="1245.9" r="1.7"/><circle cx="368.4" cy="1236.4" r="1.7"/><circle cx="357.8" cy="1250.3" r="1.7"/><circle cx="393.0" cy="1290.6" r="1.7"/><circle cx="469.4" cy="1282.1" r="1.7"/><circle cx="413.7" cy="1295.7" r="1.7"/><circle cx="401.6" cy="1289.7" r="1.7"/><circle cx="379.8" cy="1271.2" r="1.7"/><circle cx="401.7" cy="1300.8" r="1.7"/><circle cx="369.8" cy="1283.7" r="1.7"/><circle cx="426.4" cy="1294.0" r="1.7"/><circle cx="456.2" cy="1284.5" r="1.7"/><circle cx="377.8" cy="1266.3" r="1.7"/><circle cx="458.9" cy="1278.7" r="1.7"/><circle cx="371.9" cy="1268.4" r="1.7"/><circle cx="368.7" cy="1261.5" r="1.7"/><circle cx="381.4" cy="1283.8" r="1.7"/><circle cx="369.4" cy="1245.9" r="1.7"/><circle cx="408.6" cy="1297.3" r="1.7"/><circle cx="374.1" cy="1280.8" r="1.7"/><circle cx="409.4" cy="1292.9" r="1.7"/><circle cx="432.1" cy="1293.6" r="1.7"/><circle cx="459.0" cy="1289.3" r="1.7"/><circle cx="469.6" cy="1287.5" r="1.7"/><circle cx="368.2" cy="1264.6" r="1.7"/><circle cx="379.6" cy="1285.3" r="1.7"/><circle cx="376.6" cy="1296.4" r="1.7"/><circle cx="368.6" cy="1278.2" r="1.7"/><circle cx="427.7" cy="1290.8" r="1.7"/><circle cx="423.8" cy="1283.9" r="1.7"/><circle cx="383.2" cy="1287.9" r="1.7"/><circle cx="407.8" cy="1294.8" r="1.7"/><circle cx="411.5" cy="1289.1" r="1.7"/><circle cx="385.2" cy="1292.9" r="1.7"/><circle cx="384.4" cy="1298.2" r="1.7"/><circle cx="372.4" cy="1296.0" r="1.7"/><circle cx="463.8" cy="1283.5" r="1.7"/><circle cx="418.1" cy="1277.1" r="1.7"/><circle cx="385.4" cy="1312.4" r="1.7"/><circle cx="402.5" cy="1283.9" r="1.7"/><circle cx="412.6" cy="1283.8" r="1.7"/><circle cx="368.6" cy="1240.3" r="1.7"/><circle cx="386.4" cy="1296.0" r="1.7"/><circle cx="381.5" cy="1288.6" r="1.7"/><circle cx="426.3" cy="1292.9" r="1.7"/><circle cx="421.0" cy="1271.5" r="1.7"/><circle cx="417.9" cy="1277.2" r="1.7"/><circle cx="423.6" cy="1270.4" r="1.7"/><circle cx="411.8" cy="1276.4" r="1.7"/><circle cx="361.7" cy="1254.2" r="1.7"/><circle cx="355.8" cy="1244.5" r="1.7"/><circle cx="478.8" cy="1281.2" r="1.7"/><circle cx="477.3" cy="1281.5" r="1.7"/><circle cx="360.3" cy="1238.2" r="1.7"/><circle cx="439.5" cy="1290.1" r="1.7"/><circle cx="396.8" cy="1291.8" r="1.7"/><circle cx="414.0" cy="1287.2" r="1.7"/><circle cx="403.8" cy="1284.4" r="1.7"/><circle cx="406.8" cy="1296.8" r="1.7"/><circle cx="405.6" cy="1287.9" r="1.7"/><circle cx="411.8" cy="1279.3" r="1.7"/><circle cx="381.9" cy="1293.7" r="1.7"/><circle cx="389.2" cy="1293.7" r="1.7"/><circle cx="419.1" cy="1279.5" r="1.7"/><circle cx="379.3" cy="1289.4" r="1.7"/><circle cx="369.3" cy="1283.4" r="1.7"/><circle cx="366.2" cy="1232.3" r="1.7"/><circle cx="389.6" cy="1277.4" r="1.7"/><circle cx="362.5" cy="1240.5" r="1.7"/><circle cx="369.2" cy="1256.2" r="1.7"/><circle cx="384.6" cy="1309.8" r="1.7"/><circle cx="373.8" cy="1267.1" r="1.7"/><circle cx="468.2" cy="1283.0" r="1.7"/><circle cx="377.6" cy="1270.9" r="1.7"/><circle cx="368.1" cy="1253.2" r="1.7"/><circle cx="379.2" cy="1295.4" r="1.7"/><circle cx="365.7" cy="1235.5" r="1.7"/><circle cx="437.3" cy="1289.9" r="1.7"/><circle cx="380.0" cy="1300.8" r="1.7"/><circle cx="404.9" cy="1280.0" r="1.7"/><circle cx="414.9" cy="1273.1" r="1.7"/><circle cx="371.2" cy="1290.5" r="1.7"/><circle cx="398.1" cy="1290.2" r="1.7"/><circle cx="406.3" cy="1293.8" r="1.7"/><circle cx="424.0" cy="1274.4" r="1.7"/><circle cx="388.7" cy="1299.5" r="1.7"/><circle cx="359.0" cy="1236.3" r="1.7"/><circle cx="361.1" cy="1238.6" r="1.7"/><circle cx="421.3" cy="1271.8" r="1.7"/><circle cx="374.8" cy="1278.1" r="1.7"/><circle cx="413.2" cy="1272.1" r="1.7"/><circle cx="357.8" cy="1240.0" r="1.7"/><circle cx="480.9" cy="1283.4" r="1.7"/><circle cx="396.0" cy="1284.7" r="1.7"/><circle cx="371.2" cy="1280.0" r="1.7"/><circle cx="366.8" cy="1275.8" r="1.7"/><circle cx="431.6" cy="1284.9" r="1.7"/><circle cx="382.0" cy="1290.2" r="1.7"/><circle cx="416.9" cy="1275.9" r="1.7"/><circle cx="384.8" cy="1272.8" r="1.7"/><circle cx="406.5" cy="1279.2" r="1.7"/><circle cx="394.7" cy="1295.6" r="1.7"/><circle cx="363.3" cy="1261.9" r="1.7"/><circle cx="414.1" cy="1292.4" r="1.7"/><circle cx="369.7" cy="1247.6" r="1.7"/><circle cx="402.4" cy="1287.1" r="1.7"/><circle cx="457.9" cy="1279.2" r="1.7"/><circle cx="407.5" cy="1276.6" r="1.7"/><circle cx="374.5" cy="1278.3" r="1.7"/><circle cx="356.4" cy="1232.0" r="1.7"/><circle cx="424.5" cy="1273.2" r="1.7"/><circle cx="403.1" cy="1280.0" r="1.7"/><circle cx="368.3" cy="1260.7" r="1.7"/><circle cx="408.9" cy="1277.1" r="1.7"/><circle cx="414.2" cy="1282.6" r="1.7"/><circle cx="423.8" cy="1272.1" r="1.7"/><circle cx="410.3" cy="1297.0" r="1.7"/><circle cx="396.2" cy="1288.4" r="1.7"/><circle cx="421.9" cy="1276.4" r="1.7"/><circle cx="390.8" cy="1284.6" r="1.7"/><circle cx="368.5" cy="1242.8" r="1.7"/><circle cx="363.3" cy="1228.9" r="1.7"/><circle cx="414.1" cy="1282.3" r="1.7"/><circle cx="376.0" cy="1289.8" r="1.7"/><circle cx="367.4" cy="1251.5" r="1.7"/><circle cx="402.4" cy="1291.2" r="1.7"/><circle cx="383.0" cy="1311.3" r="1.7"/><circle cx="424.0" cy="1275.4" r="1.7"/><circle cx="391.3" cy="1295.6" r="1.7"/><circle cx="406.7" cy="1285.5" r="1.7"/><circle cx="378.8" cy="1302.5" r="1.7"/><circle cx="398.1" cy="1286.0" r="1.7"/><circle cx="369.6" cy="1277.1" r="1.7"/><circle cx="372.0" cy="1290.7" r="1.7"/><circle cx="410.4" cy="1285.7" r="1.7"/><circle cx="453.7" cy="1290.4" r="1.7"/><circle cx="360.4" cy="1231.3" r="1.7"/><circle cx="360.3" cy="1255.1" r="1.7"/><circle cx="413.5" cy="1287.9" r="1.7"/><circle cx="361.4" cy="1249.3" r="1.7"/><circle cx="383.2" cy="1308.1" r="1.7"/><circle cx="412.6" cy="1272.7" r="1.7"/><circle cx="485.3" cy="1283.8" r="1.7"/><circle cx="363.0" cy="1259.2" r="1.7"/><circle cx="450.0" cy="1286.7" r="1.7"/><circle cx="374.1" cy="1277.3" r="1.7"/><circle cx="399.8" cy="1299.4" r="1.7"/><circle cx="377.7" cy="1286.3" r="1.7"/><circle cx="370.4" cy="1253.2" r="1.7"/><circle cx="363.1" cy="1252.5" r="1.7"/><circle cx="381.5" cy="1289.4" r="1.7"/><circle cx="364.7" cy="1228.7" r="1.7"/><circle cx="366.3" cy="1290.8" r="1.7"/><circle cx="369.6" cy="1270.7" r="1.7"/></g>
<ellipse cx="422.8" cy="1277.2" rx="4.2" ry="2.8" fill="#fff" opacity="0.9"/>
<ellipse cx="376" cy="1274" rx="2" ry="1.5" fill="#fff" opacity="0.5"/>
<ellipse cx="404" cy="1295" rx="2.5" ry="2" fill="#fff" opacity="0.6"/>
<circle cx="380.0" cy="1258.0" r="2.5" fill="#3c3c96"/>
<circle cx="421.6" cy="1257.5" r="2.5" fill="#3c3c96"/>
<circle cx="497.9" cy="1289.6" r="2.5" fill="#3c3c96"/>
<circle cx="378.7" cy="1316.0" r="2.5" fill="#3c3c96"/>
<polyline points="581.0,1340.9 598.0,1340.9" fill="none" stroke="#4a56b2" stroke-width="3.6" stroke-linecap="round" stroke-linejoin="round" opacity="1.0"/>
<circle cx="607.6" cy="1340.9" r="2.3" fill="#4a56b2"/>
<polyline points="607.6,1328.7 618.0,1324.0 630.7,1320.2" fill="none" stroke="#3e48a6" stroke-width="4.5" stroke-linecap="round" stroke-linejoin="round" opacity="1.0"/>
<polyline points="624.6,1310.5 630.7,1308.0" fill="none" stroke="#3e48a6" stroke-width="4" stroke-linecap="round" stroke-linejoin="round" opacity="1.0"/>
<polyline points="629.5,1300.8 634.0,1298.0 639.2,1296.0" fill="none" stroke="#4650ae" stroke-width="3.5" stroke-linecap="round" stroke-linejoin="round" opacity="1.0"/>
<polyline points="635.6,1313.0 642.9,1319.0 647.0,1325.0 652.6,1336.0" fill="none" stroke="#4c5ab4" stroke-width="4.5" stroke-linecap="round" stroke-linejoin="round" opacity="1.0"/>
<polyline points="652.6,1327.5 661.0,1332.4" fill="none" stroke="#4c5ab4" stroke-width="4" stroke-linecap="round" stroke-linejoin="round" opacity="1.0"/>
<path d="M647.7,1312.0 C648.4,1311.4 650.3,1309.5 652.0,1308.5 C653.7,1307.5 656.4,1306.3 658.0,1306.2 C659.6,1306.1 661.3,1307.0 661.5,1308.0 C661.7,1309.0 660.6,1311.4 659.0,1312.5 C657.4,1313.6 653.9,1314.7 652.0,1314.6 C650.1,1314.5 648.4,1312.4 647.7,1312.0Z" fill="#4650ae" opacity="1.0"/>
<circle cx="633.0" cy="1342.0" r="2.3" fill="#4a56b2"/>
<circle cx="640.4" cy="1342.0" r="2.3" fill="#4a56b2"/>
<circle cx="625.9" cy="1353.0" r="2.3" fill="#4a56b2"/>
<circle cx="635.6" cy="1355.4" r="2.3" fill="#4a56b2"/>
<circle cx="645.3" cy="1359.0" r="2.3" fill="#4a56b2"/>
<circle cx="672.0" cy="1351.8" r="2.3" fill="#4a56b2"/>
<circle cx="676.9" cy="1351.8" r="2.3" fill="#4a56b2"/>
<circle cx="685.4" cy="1350.6" r="2.3" fill="#4a56b2"/>
<circle cx="698.7" cy="1349.4" r="2.3" fill="#4a56b2"/>
<circle cx="703.6" cy="1349.4" r="2.3" fill="#4a56b2"/>
<polyline points="662.3,1343.3 668.4,1339.6" fill="none" stroke="#4a56b2" stroke-width="3.6" stroke-linecap="round" stroke-linejoin="round" opacity="1.0"/>
<path d="M657.4,1366.5 C658.2,1365.8 660.2,1363.3 662.0,1362.5 C663.8,1361.7 666.1,1361.2 668.0,1361.5 C669.9,1361.8 672.7,1362.8 673.2,1364.0 C673.7,1365.2 672.7,1367.9 671.0,1368.8 C669.3,1369.7 665.3,1369.6 663.0,1369.2 C660.7,1368.8 658.3,1367.0 657.4,1366.5Z" fill="#58a6dc" opacity="1.0"/>
<polyline points="641.6,1373.6 650.0,1370.0" fill="none" stroke="#58a6dc" stroke-width="3.4" stroke-linecap="round" stroke-linejoin="round" opacity="1.0"/>
<polyline points="650.0,1378.5 660.0,1374.9" fill="none" stroke="#58a6dc" stroke-width="3.4" stroke-linecap="round" stroke-linejoin="round" opacity="1.0"/>
<polyline points="681.7,1360.3 689.0,1357.9" fill="none" stroke="#58a6dc" stroke-width="3.6" stroke-linecap="round" stroke-linejoin="round" opacity="1.0"/>
<polyline points="684.0,1370.0 691.4,1372.4" fill="none" stroke="#58a6dc" stroke-width="3.6" stroke-linecap="round" stroke-linejoin="round" opacity="1.0"/>
<polyline points="691.4,1353.0 697.0,1362.0 702.4,1372.4" fill="none" stroke="#5a9ad6" stroke-width="3.6" stroke-linecap="round" stroke-linejoin="round" opacity="1.0"/>
<polyline points="703.6,1382.0 707.0,1386.0 710.9,1389.4" fill="none" stroke="#58a6dc" stroke-width="4.5" stroke-linecap="round" stroke-linejoin="round" opacity="1.0"/>
<circle cx="726.6" cy="1384.0" r="2.4" fill="#5a88cc"/>
<polyline points="642.9,1420.4 651.4,1418.0" fill="none" stroke="#68c0de" stroke-width="4.2" stroke-linecap="round" stroke-linejoin="round" opacity="1.0"/>
<polyline points="658.6,1416.0 672.9,1414.5" fill="none" stroke="#68c0de" stroke-width="5" stroke-linecap="round" stroke-linejoin="round" opacity="1.0"/>
<polyline points="671.4,1406.0 680.0,1404.0 688.6,1403.5" fill="none" stroke="#68c0de" stroke-width="3.4" stroke-linecap="round" stroke-linejoin="round" opacity="1.0"/>
<circle cx="694.3" cy="1410.0" r="2.2" fill="#68c0de"/>
<path d="M701.4,1411.0 C702.8,1410.8 707.2,1409.8 710.0,1410.0 C712.8,1410.2 715.3,1411.8 718.0,1412.0 C720.7,1412.2 723.3,1410.7 726.0,1411.0 C728.7,1411.3 733.1,1412.2 734.3,1414.0 C735.5,1415.8 735.0,1420.0 733.0,1421.5 C731.0,1423.0 725.5,1423.2 722.0,1422.9 C718.5,1422.7 715.0,1421.2 712.0,1420.0 C709.0,1418.8 705.8,1417.5 704.0,1416.0 C702.2,1414.5 701.8,1411.8 701.4,1411.0Z" fill="#68c0de" opacity="1.0"/>
<polyline points="720.0,1404.5 732.9,1405.0" fill="none" stroke="#68c0de" stroke-width="3.6" stroke-linecap="round" stroke-linejoin="round" opacity="1.0"/>
<polyline points="737.0,1428.5 751.4,1431.5" fill="none" stroke="#68c0de" stroke-width="3.6" stroke-linecap="round" stroke-linejoin="round" opacity="1.0"/>
<polyline points="751.4,1442.9 760.0,1430.0" fill="none" stroke="#70c4d8" stroke-width="3" stroke-linecap="round" stroke-linejoin="round" opacity="1.0"/>
<polyline points="765.7,1437.0 774.3,1431.4" fill="none" stroke="#78b8e0" stroke-width="2.6" stroke-linecap="round" stroke-linejoin="round" opacity="1.0"/>
<polyline points="784.3,1434.0 792.0,1438.0 801.4,1444.3" fill="none" stroke="#70c2d8" stroke-width="3.6" stroke-linecap="round" stroke-linejoin="round" opacity="1.0"/>
<polyline points="801.4,1444.0 815.7,1449.0" fill="none" stroke="#74c0d4" stroke-width="3.6" stroke-linecap="round" stroke-linejoin="round" opacity="1.0"/>
<polyline points="818.6,1438.6 830.0,1450.0" fill="none" stroke="#68c0de" stroke-width="2.6" stroke-linecap="round" stroke-linejoin="round" opacity="1.0"/>
<polyline points="727.0,1437.5 733.0,1440.0" fill="none" stroke="#5aaab8" stroke-width="3" stroke-linecap="round" stroke-linejoin="round" opacity="1.0"/>
<polyline points="761.0,1450.5 770.0,1453.5" fill="none" stroke="#5aaab8" stroke-width="3" stroke-linecap="round" stroke-linejoin="round" opacity="1.0"/>
<polyline points="780.0,1456.5 787.0,1459.5" fill="none" stroke="#5aaab8" stroke-width="3" stroke-linecap="round" stroke-linejoin="round" opacity="1.0"/>
<polyline points="740.0,1427.0 748.0,1432.0 761.0,1441.0" fill="none" stroke="#68c0de" stroke-width="3.4" stroke-linecap="round" stroke-linejoin="round" opacity="1.0"/>
<polyline points="820.0,1440.0 835.0,1448.0" fill="none" stroke="#68c0de" stroke-width="3.4" stroke-linecap="round" stroke-linejoin="round" opacity="1.0"/>
<polyline points="835.0,1448.0 845.0,1437.0 856.0,1453.0" fill="none" stroke="#78c4dc" stroke-width="2.6" stroke-linecap="round" stroke-linejoin="round" opacity="1.0"/>
<polyline points="847.0,1462.5 856.0,1468.0" fill="none" stroke="#68c0de" stroke-width="3.4" stroke-linecap="round" stroke-linejoin="round" opacity="1.0"/>
<polyline points="861.0,1474.0 870.0,1478.0 879.0,1478.0" fill="none" stroke="#70bccc" stroke-width="4.2" stroke-linecap="round" stroke-linejoin="round" opacity="1.0"/>
<circle cx="888.0" cy="1478.6" r="2.3" fill="#68c0de"/>
<circle cx="897.0" cy="1478.0" r="2.3" fill="#68c0de"/>
<polyline points="909.6,1474.0 920.0,1466.5 936.0,1475.0" fill="none" stroke="#78b8d8" stroke-width="2.6" stroke-linecap="round" stroke-linejoin="round" opacity="1.0"/>
<polyline points="943.6,1478.0 955.0,1482.0 963.0,1475.0" fill="none" stroke="#70c0d0" stroke-width="3" stroke-linecap="round" stroke-linejoin="round" opacity="1.0"/>
<circle cx="645.5" cy="1371.3" r="1.6" fill="#5aa8dc"/>
<circle cx="650.6" cy="1369.8" r="1.6" fill="#5aa8dc"/>
<circle cx="665.8" cy="1366.5" r="1.6" fill="#5aa8dc"/>
<circle cx="634.1" cy="1361.6" r="1.6" fill="#5aa8dc"/>
<circle cx="647.2" cy="1366.9" r="1.6" fill="#5aa8dc"/>
<circle cx="652.2" cy="1372.7" r="1.6" fill="#5aa8dc"/>
<circle cx="670.7" cy="1371.5" r="1.6" fill="#5aa8dc"/>
<circle cx="656.9" cy="1366.5" r="1.6" fill="#5aa8dc"/>
<circle cx="658.2" cy="1376.6" r="1.6" fill="#5aa8dc"/>
<circle cx="666.2" cy="1360.6" r="1.6" fill="#5aa8dc"/>
<circle cx="661.4" cy="1377.6" r="1.6" fill="#5aa8dc"/>
<circle cx="660.8" cy="1362.8" r="1.6" fill="#5aa8dc"/>
<circle cx="648.7" cy="1372.8" r="1.6" fill="#5aa8dc"/>
<circle cx="656.4" cy="1366.1" r="1.6" fill="#5aa8dc"/>
<circle cx="642.6" cy="1374.7" r="1.6" fill="#5aa8dc"/>
<circle cx="637.9" cy="1376.9" r="1.6" fill="#5aa8dc"/>
<circle cx="652.2" cy="1371.4" r="1.6" fill="#5aa8dc"/>
<circle cx="637.9" cy="1367.1" r="1.6" fill="#5aa8dc"/>
<circle cx="659.3" cy="1362.9" r="1.6" fill="#5aa8dc"/>
<circle cx="673.9" cy="1363.2" r="1.6" fill="#5aa8dc"/>
<circle cx="639.1" cy="1370.2" r="1.6" fill="#5aa8dc"/>
<circle cx="657.1" cy="1373.5" r="1.6" fill="#5aa8dc"/>
<circle cx="648.1" cy="1369.0" r="1.6" fill="#5aa8dc"/>
<circle cx="649.5" cy="1367.2" r="1.6" fill="#5aa8dc"/>
<circle cx="624.7" cy="1374.6" r="1.6" fill="#5aa8dc"/>
<circle cx="654.7" cy="1370.8" r="1.6" fill="#5aa8dc"/>
<circle cx="684.0" cy="1363.7" r="1.6" fill="#5a9ad6"/>
<circle cx="689.9" cy="1361.5" r="1.6" fill="#5a9ad6"/>
<circle cx="700.6" cy="1350.4" r="1.6" fill="#5a9ad6"/>
<circle cx="692.4" cy="1354.8" r="1.6" fill="#5a9ad6"/>
<circle cx="686.9" cy="1372.1" r="1.6" fill="#5a9ad6"/>
<circle cx="679.6" cy="1361.3" r="1.6" fill="#5a9ad6"/>
<circle cx="684.3" cy="1368.4" r="1.6" fill="#5a9ad6"/>
<circle cx="680.6" cy="1350.7" r="1.6" fill="#5a9ad6"/>
<circle cx="694.9" cy="1359.6" r="1.6" fill="#5a9ad6"/>
<circle cx="686.9" cy="1369.3" r="1.6" fill="#5a9ad6"/>
<circle cx="681.5" cy="1359.5" r="1.6" fill="#5a9ad6"/>
<circle cx="691.4" cy="1364.8" r="1.6" fill="#5a9ad6"/>
<circle cx="685.0" cy="1369.0" r="1.6" fill="#5a9ad6"/>
<circle cx="711.5" cy="1359.3" r="1.6" fill="#5a9ad6"/>
<circle cx="708.0" cy="1347.8" r="1.6" fill="#5a9ad6"/>
<circle cx="703.5" cy="1359.7" r="1.6" fill="#5a9ad6"/>
<circle cx="691.3" cy="1359.7" r="1.6" fill="#5a9ad6"/>
<circle cx="683.9" cy="1353.4" r="1.6" fill="#5a9ad6"/>
<circle cx="686.2" cy="1370.7" r="1.6" fill="#5a9ad6"/>
<circle cx="700.9" cy="1359.7" r="1.6" fill="#5a9ad6"/>
<circle cx="684.9" cy="1357.3" r="1.6" fill="#5a9ad6"/>
<circle cx="678.5" cy="1374.1" r="1.6" fill="#5a9ad6"/>
<circle cx="696.4" cy="1362.8" r="1.6" fill="#5a9ad6"/>
<circle cx="685.3" cy="1355.1" r="1.6" fill="#5a9ad6"/>
<circle cx="643.9" cy="1324.0" r="1.5" fill="#4650ae"/>
<circle cx="619.9" cy="1325.6" r="1.5" fill="#4650ae"/>
<circle cx="618.3" cy="1322.9" r="1.5" fill="#4650ae"/>
<circle cx="619.9" cy="1314.8" r="1.5" fill="#4650ae"/>
<circle cx="635.2" cy="1321.3" r="1.5" fill="#4650ae"/>
<circle cx="640.7" cy="1311.6" r="1.5" fill="#4650ae"/>
<circle cx="646.7" cy="1328.3" r="1.5" fill="#4650ae"/>
<circle cx="629.9" cy="1321.6" r="1.5" fill="#4650ae"/>
<circle cx="621.8" cy="1316.8" r="1.5" fill="#4650ae"/>
<circle cx="616.1" cy="1318.7" r="1.5" fill="#4650ae"/>
<circle cx="632.1" cy="1328.3" r="1.5" fill="#4650ae"/>
<circle cx="640.0" cy="1324.3" r="1.5" fill="#4650ae"/>
<circle cx="626.2" cy="1316.3" r="1.5" fill="#4650ae"/>
<circle cx="626.4" cy="1319.7" r="1.5" fill="#4650ae"/>
<circle cx="609.6" cy="1323.9" r="1.5" fill="#4650ae"/>
<circle cx="613.5" cy="1314.0" r="1.5" fill="#4650ae"/>
<circle cx="630.2" cy="1314.1" r="1.5" fill="#4650ae"/>
<circle cx="647.6" cy="1317.2" r="1.5" fill="#4650ae"/>
<circle cx="732.8" cy="1421.1" r="1.6" fill="#68c0de"/>
<circle cx="705.2" cy="1416.4" r="1.6" fill="#68c0de"/>
<circle cx="729.5" cy="1414.4" r="1.6" fill="#68c0de"/>
<circle cx="713.3" cy="1412.7" r="1.6" fill="#68c0de"/>
<circle cx="712.9" cy="1413.5" r="1.6" fill="#68c0de"/>
<circle cx="712.9" cy="1419.4" r="1.6" fill="#68c0de"/>
<circle cx="730.7" cy="1416.5" r="1.6" fill="#68c0de"/>
<circle cx="714.5" cy="1418.8" r="1.6" fill="#68c0de"/>
<circle cx="708.3" cy="1410.2" r="1.6" fill="#68c0de"/>
<circle cx="727.1" cy="1411.7" r="1.6" fill="#68c0de"/>
<circle cx="724.7" cy="1411.5" r="1.6" fill="#68c0de"/>
<circle cx="736.8" cy="1411.7" r="1.6" fill="#68c0de"/>
<circle cx="723.1" cy="1422.0" r="1.6" fill="#68c0de"/>
<circle cx="698.8" cy="1420.8" r="1.6" fill="#68c0de"/>
<circle cx="701.3" cy="1406.8" r="1.6" fill="#68c0de"/>
<circle cx="721.5" cy="1418.5" r="1.6" fill="#68c0de"/>
<circle cx="709.8" cy="1404.0" r="1.6" fill="#68c0de"/>
<circle cx="711.3" cy="1413.6" r="1.6" fill="#68c0de"/>
<circle cx="707.0" cy="1413.5" r="1.6" fill="#68c0de"/>
<circle cx="688.1" cy="1411.4" r="1.6" fill="#68c0de"/>
<circle cx="735.8" cy="1422.9" r="1.6" fill="#68c0de"/>
<circle cx="707.3" cy="1411.7" r="1.6" fill="#68c0de"/>
<circle cx="717.1" cy="1419.8" r="1.6" fill="#68c0de"/>
<circle cx="722.0" cy="1410.4" r="1.6" fill="#68c0de"/>
<circle cx="714.1" cy="1415.7" r="1.6" fill="#68c0de"/>
<circle cx="731.0" cy="1421.1" r="1.6" fill="#68c0de"/>
<circle cx="718.8" cy="1420.6" r="1.6" fill="#68c0de"/>
<circle cx="706.4" cy="1421.4" r="1.6" fill="#68c0de"/>
<circle cx="706.2" cy="1416.4" r="1.6" fill="#68c0de"/>
<circle cx="724.5" cy="1411.7" r="1.6" fill="#68c0de"/>
<circle cx="703.0" cy="1406.9" r="1.6" fill="#68c0de"/>
<circle cx="714.2" cy="1414.9" r="1.6" fill="#68c0de"/>
<circle cx="707.5" cy="1416.9" r="1.6" fill="#68c0de"/>
<circle cx="683.6" cy="1413.5" r="1.6" fill="#68c0de"/>
<circle cx="665.8" cy="1411.1" r="1.5" fill="#68c0de"/>
<circle cx="672.6" cy="1417.9" r="1.5" fill="#68c0de"/>
<circle cx="660.7" cy="1408.8" r="1.5" fill="#68c0de"/>
<circle cx="659.2" cy="1412.3" r="1.5" fill="#68c0de"/>
<circle cx="670.6" cy="1409.1" r="1.5" fill="#68c0de"/>
<circle cx="674.6" cy="1408.6" r="1.5" fill="#68c0de"/>
<circle cx="672.9" cy="1413.4" r="1.5" fill="#68c0de"/>
<circle cx="669.5" cy="1419.2" r="1.5" fill="#68c0de"/>
<circle cx="662.5" cy="1411.4" r="1.5" fill="#68c0de"/>
<circle cx="669.6" cy="1414.9" r="1.5" fill="#68c0de"/>
<circle cx="652.1" cy="1412.9" r="1.5" fill="#68c0de"/>
<circle cx="657.9" cy="1414.1" r="1.5" fill="#68c0de"/>
<circle cx="678.1" cy="1412.2" r="1.5" fill="#68c0de"/>
<circle cx="664.0" cy="1412.6" r="1.5" fill="#68c0de"/>
<circle cx="757.7" cy="1436.4" r="1.5" fill="#70c2d8"/>
<circle cx="807.8" cy="1444.2" r="1.5" fill="#70c2d8"/>
<circle cx="795.0" cy="1438.1" r="1.5" fill="#70c2d8"/>
<circle cx="796.5" cy="1446.1" r="1.5" fill="#70c2d8"/>
<circle cx="797.5" cy="1446.8" r="1.5" fill="#70c2d8"/>
<circle cx="764.1" cy="1432.9" r="1.5" fill="#70c2d8"/>
<circle cx="803.9" cy="1442.7" r="1.5" fill="#70c2d8"/>
<circle cx="777.1" cy="1434.7" r="1.5" fill="#70c2d8"/>
<circle cx="818.6" cy="1440.7" r="1.5" fill="#70c2d8"/>
<circle cx="786.9" cy="1435.0" r="1.5" fill="#70c2d8"/>
<circle cx="791.7" cy="1442.8" r="1.5" fill="#70c2d8"/>
<circle cx="809.9" cy="1436.1" r="1.5" fill="#70c2d8"/>
<circle cx="821.1" cy="1443.9" r="1.5" fill="#70c2d8"/>
<circle cx="790.4" cy="1446.6" r="1.5" fill="#70c2d8"/>
<circle cx="799.8" cy="1437.1" r="1.5" fill="#70c2d8"/>
<circle cx="791.5" cy="1437.4" r="1.5" fill="#70c2d8"/>
<circle cx="786.0" cy="1437.9" r="1.5" fill="#70c2d8"/>
<circle cx="812.1" cy="1445.8" r="1.5" fill="#70c2d8"/>
<circle cx="778.4" cy="1448.5" r="1.5" fill="#70c2d8"/>
<circle cx="785.9" cy="1439.6" r="1.5" fill="#70c2d8"/>
<circle cx="799.9" cy="1445.0" r="1.5" fill="#70c2d8"/>
<circle cx="795.0" cy="1442.8" r="1.5" fill="#70c2d8"/>
<circle cx="829.6" cy="1448.4" r="1.5" fill="#70c2d8"/>
<circle cx="784.5" cy="1440.1" r="1.5" fill="#70c2d8"/>
<circle cx="789.0" cy="1438.3" r="1.5" fill="#70c2d8"/>
<circle cx="802.4" cy="1443.8" r="1.5" fill="#70c2d8"/>
<circle cx="842.8" cy="1460.7" r="1.5" fill="#70c2d8"/>
<circle cx="843.5" cy="1446.2" r="1.5" fill="#70c2d8"/>
<circle cx="851.7" cy="1452.6" r="1.5" fill="#70c2d8"/>
<circle cx="854.3" cy="1450.6" r="1.5" fill="#70c2d8"/>
<circle cx="849.4" cy="1457.1" r="1.5" fill="#70c2d8"/>
<circle cx="824.3" cy="1445.0" r="1.5" fill="#70c2d8"/>
<circle cx="836.4" cy="1464.5" r="1.5" fill="#70c2d8"/>
<circle cx="830.5" cy="1461.1" r="1.5" fill="#70c2d8"/>
<circle cx="853.4" cy="1458.3" r="1.5" fill="#70c2d8"/>
<circle cx="850.2" cy="1451.7" r="1.5" fill="#70c2d8"/>
<circle cx="844.9" cy="1456.5" r="1.5" fill="#70c2d8"/>
<circle cx="848.2" cy="1459.8" r="1.5" fill="#70c2d8"/>
<circle cx="843.4" cy="1450.3" r="1.5" fill="#70c2d8"/>
<circle cx="840.7" cy="1457.8" r="1.5" fill="#70c2d8"/>
<circle cx="914.3" cy="1470.4" r="1.4" fill="#78bcd8"/>
<circle cx="929.9" cy="1472.4" r="1.4" fill="#78bcd8"/>
<circle cx="931.6" cy="1466.3" r="1.4" fill="#78bcd8"/>
<circle cx="930.7" cy="1473.3" r="1.4" fill="#78bcd8"/>
<circle cx="944.7" cy="1468.3" r="1.4" fill="#78bcd8"/>
<circle cx="931.2" cy="1475.4" r="1.4" fill="#78bcd8"/>
<circle cx="941.1" cy="1477.4" r="1.4" fill="#78bcd8"/>
<circle cx="948.2" cy="1471.0" r="1.4" fill="#78bcd8"/>
<circle cx="942.9" cy="1473.0" r="1.4" fill="#78bcd8"/>
<circle cx="925.0" cy="1478.4" r="1.4" fill="#78bcd8"/>
<circle cx="927.1" cy="1471.5" r="1.4" fill="#78bcd8"/>
<circle cx="929.9" cy="1471.5" r="1.4" fill="#78bcd8"/>
<path d="M880.0,1496.0 C881.2,1494.3 884.0,1487.9 887.0,1486.0 C890.0,1484.1 894.8,1483.7 898.0,1484.5 C901.2,1485.3 903.0,1490.2 906.0,1491.0 C909.0,1491.8 912.8,1489.2 916.0,1489.5 C919.2,1489.8 921.7,1491.9 925.0,1493.0 C928.3,1494.1 932.2,1496.0 936.0,1496.0 C939.8,1496.0 944.3,1494.3 948.0,1493.0 C951.7,1491.7 955.7,1490.2 958.0,1488.0 C960.3,1485.8 960.7,1479.7 962.0,1480.0 C963.3,1480.3 965.3,1485.8 966.0,1490.0 C966.7,1494.2 966.7,1500.2 966.0,1505.0 C965.3,1509.8 963.7,1516.3 962.0,1519.0 C960.3,1521.7 958.8,1521.5 956.0,1521.0 C953.2,1520.5 949.0,1517.2 945.0,1516.0 C941.0,1514.8 936.2,1514.8 932.0,1514.0 C927.8,1513.2 924.5,1511.8 920.0,1511.0 C915.5,1510.2 908.8,1508.5 905.0,1509.0 C901.2,1509.5 899.0,1512.7 897.0,1514.0 C895.0,1515.3 894.3,1518.2 893.0,1517.0 C891.7,1515.8 891.2,1510.5 889.0,1507.0 C886.8,1503.5 881.5,1497.8 880.0,1496.0Z" fill="#7ab82e" opacity="0.55"/>
<g fill="#7ab82e"><circle cx="884.9" cy="1497.0" r="1.7"/><circle cx="908.8" cy="1500.3" r="1.7"/><circle cx="959.6" cy="1503.1" r="1.7"/><circle cx="932.8" cy="1509.7" r="1.7"/><circle cx="893.4" cy="1485.8" r="1.7"/><circle cx="950.0" cy="1497.4" r="1.7"/><circle cx="926.3" cy="1504.1" r="1.7"/><circle cx="927.7" cy="1507.0" r="1.7"/><circle cx="941.2" cy="1511.3" r="1.7"/><circle cx="919.0" cy="1491.4" r="1.7"/><circle cx="920.9" cy="1506.9" r="1.7"/><circle cx="946.6" cy="1494.9" r="1.7"/><circle cx="965.1" cy="1489.4" r="1.7"/><circle cx="885.2" cy="1500.6" r="1.7"/><circle cx="960.8" cy="1495.0" r="1.7"/><circle cx="892.8" cy="1487.3" r="1.7"/><circle cx="964.5" cy="1500.5" r="1.7"/><circle cx="948.8" cy="1498.9" r="1.7"/><circle cx="961.3" cy="1505.7" r="1.7"/><circle cx="899.3" cy="1490.3" r="1.7"/><circle cx="902.6" cy="1497.8" r="1.7"/><circle cx="899.9" cy="1488.3" r="1.7"/><circle cx="945.3" cy="1506.4" r="1.7"/><circle cx="898.6" cy="1503.4" r="1.7"/><circle cx="893.5" cy="1515.4" r="1.7"/><circle cx="954.8" cy="1491.0" r="1.7"/><circle cx="944.6" cy="1513.7" r="1.7"/><circle cx="904.3" cy="1493.6" r="1.7"/><circle cx="893.9" cy="1508.0" r="1.7"/><circle cx="931.4" cy="1498.6" r="1.7"/><circle cx="893.0" cy="1510.2" r="1.7"/><circle cx="888.4" cy="1486.9" r="1.7"/><circle cx="890.4" cy="1500.0" r="1.7"/><circle cx="891.7" cy="1497.6" r="1.7"/><circle cx="895.4" cy="1508.1" r="1.7"/><circle cx="892.7" cy="1510.3" r="1.7"/><circle cx="910.4" cy="1500.3" r="1.7"/><circle cx="959.0" cy="1494.3" r="1.7"/><circle cx="956.0" cy="1510.0" r="1.7"/><circle cx="915.1" cy="1502.8" r="1.7"/><circle cx="939.2" cy="1506.8" r="1.7"/><circle cx="926.8" cy="1502.5" r="1.7"/><circle cx="955.2" cy="1509.4" r="1.7"/><circle cx="914.3" cy="1493.0" r="1.7"/><circle cx="913.3" cy="1495.8" r="1.7"/><circle cx="901.9" cy="1505.0" r="1.7"/><circle cx="897.1" cy="1484.8" r="1.7"/><circle cx="952.5" cy="1512.1" r="1.7"/><circle cx="935.6" cy="1502.5" r="1.7"/><circle cx="953.4" cy="1500.9" r="1.7"/><circle cx="900.2" cy="1505.8" r="1.7"/><circle cx="943.9" cy="1495.5" r="1.7"/><circle cx="941.2" cy="1496.1" r="1.7"/><circle cx="925.3" cy="1505.1" r="1.7"/><circle cx="934.1" cy="1502.3" r="1.7"/><circle cx="899.2" cy="1505.1" r="1.7"/><circle cx="920.7" cy="1509.6" r="1.7"/><circle cx="924.9" cy="1499.5" r="1.7"/><circle cx="899.0" cy="1485.8" r="1.7"/><circle cx="959.8" cy="1501.7" r="1.7"/><circle cx="925.1" cy="1501.6" r="1.7"/><circle cx="894.8" cy="1513.7" r="1.7"/><circle cx="919.6" cy="1506.3" r="1.7"/><circle cx="951.2" cy="1516.7" r="1.7"/><circle cx="893.2" cy="1490.3" r="1.7"/><circle cx="888.8" cy="1494.6" r="1.7"/><circle cx="949.1" cy="1501.4" r="1.7"/><circle cx="939.8" cy="1498.4" r="1.7"/><circle cx="911.9" cy="1493.9" r="1.7"/><circle cx="897.3" cy="1503.4" r="1.7"/><circle cx="897.3" cy="1497.3" r="1.7"/><circle cx="948.1" cy="1505.3" r="1.7"/><circle cx="918.1" cy="1495.1" r="1.7"/><circle cx="915.1" cy="1506.6" r="1.7"/><circle cx="949.7" cy="1494.4" r="1.7"/><circle cx="913.1" cy="1503.7" r="1.7"/><circle cx="959.5" cy="1487.9" r="1.7"/><circle cx="963.5" cy="1509.2" r="1.7"/><circle cx="912.0" cy="1507.3" r="1.7"/><circle cx="945.0" cy="1495.6" r="1.7"/><circle cx="925.2" cy="1500.4" r="1.7"/><circle cx="957.5" cy="1511.0" r="1.7"/><circle cx="919.8" cy="1498.9" r="1.7"/><circle cx="952.2" cy="1497.0" r="1.7"/><circle cx="917.8" cy="1500.1" r="1.7"/><circle cx="937.7" cy="1510.4" r="1.7"/><circle cx="938.5" cy="1502.7" r="1.7"/><circle cx="946.2" cy="1511.6" r="1.7"/><circle cx="890.2" cy="1489.0" r="1.7"/><circle cx="944.8" cy="1503.1" r="1.7"/><circle cx="941.2" cy="1499.8" r="1.7"/><circle cx="915.9" cy="1503.9" r="1.7"/><circle cx="908.8" cy="1501.2" r="1.7"/><circle cx="903.6" cy="1490.8" r="1.7"/><circle cx="953.9" cy="1502.8" r="1.7"/><circle cx="923.9" cy="1497.2" r="1.7"/><circle cx="884.4" cy="1492.5" r="1.7"/><circle cx="954.5" cy="1512.9" r="1.7"/><circle cx="953.7" cy="1490.5" r="1.7"/><circle cx="926.2" cy="1495.3" r="1.7"/><circle cx="919.9" cy="1500.0" r="1.7"/><circle cx="930.2" cy="1495.0" r="1.7"/><circle cx="959.1" cy="1502.8" r="1.7"/><circle cx="884.4" cy="1492.9" r="1.7"/><circle cx="925.8" cy="1496.8" r="1.7"/><circle cx="949.0" cy="1504.3" r="1.7"/><circle cx="885.0" cy="1497.8" r="1.7"/><circle cx="959.3" cy="1503.0" r="1.7"/><circle cx="948.9" cy="1500.4" r="1.7"/><circle cx="938.0" cy="1507.7" r="1.7"/><circle cx="958.9" cy="1488.5" r="1.7"/><circle cx="915.7" cy="1507.0" r="1.7"/><circle cx="958.4" cy="1493.3" r="1.7"/><circle cx="912.7" cy="1506.3" r="1.7"/><circle cx="899.2" cy="1502.4" r="1.7"/><circle cx="888.0" cy="1499.0" r="1.7"/><circle cx="942.6" cy="1497.6" r="1.7"/><circle cx="960.8" cy="1501.6" r="1.7"/><circle cx="905.0" cy="1494.3" r="1.7"/><circle cx="944.5" cy="1500.4" r="1.7"/><circle cx="931.4" cy="1502.2" r="1.7"/><circle cx="908.6" cy="1498.4" r="1.7"/><circle cx="901.3" cy="1510.4" r="1.7"/><circle cx="895.4" cy="1512.3" r="1.7"/><circle cx="927.4" cy="1512.3" r="1.7"/><circle cx="931.2" cy="1498.9" r="1.7"/><circle cx="891.3" cy="1503.7" r="1.7"/><circle cx="910.3" cy="1495.4" r="1.7"/><circle cx="955.1" cy="1499.7" r="1.7"/><circle cx="922.7" cy="1502.0" r="1.7"/><circle cx="890.1" cy="1499.2" r="1.7"/><circle cx="894.1" cy="1502.0" r="1.7"/><circle cx="923.6" cy="1495.0" r="1.7"/><circle cx="897.0" cy="1496.6" r="1.7"/><circle cx="897.5" cy="1485.2" r="1.7"/><circle cx="929.1" cy="1508.2" r="1.7"/><circle cx="899.7" cy="1510.8" r="1.7"/><circle cx="893.2" cy="1490.8" r="1.7"/><circle cx="882.7" cy="1496.1" r="1.7"/><circle cx="931.2" cy="1512.1" r="1.7"/><circle cx="901.1" cy="1504.6" r="1.7"/><circle cx="933.2" cy="1508.4" r="1.7"/><circle cx="950.1" cy="1494.0" r="1.7"/><circle cx="949.7" cy="1498.9" r="1.7"/><circle cx="960.9" cy="1496.9" r="1.7"/><circle cx="901.1" cy="1510.1" r="1.7"/><circle cx="897.0" cy="1489.0" r="1.7"/><circle cx="921.3" cy="1500.4" r="1.7"/><circle cx="944.6" cy="1506.1" r="1.7"/><circle cx="897.1" cy="1505.6" r="1.7"/><circle cx="952.7" cy="1512.3" r="1.7"/><circle cx="963.1" cy="1507.6" r="1.7"/><circle cx="951.2" cy="1518.4" r="1.7"/><circle cx="957.8" cy="1510.5" r="1.7"/><circle cx="951.6" cy="1512.9" r="1.7"/><circle cx="930.8" cy="1497.8" r="1.7"/><circle cx="951.0" cy="1512.2" r="1.7"/><circle cx="954.9" cy="1492.3" r="1.7"/><circle cx="962.6" cy="1501.8" r="1.7"/><circle cx="961.4" cy="1484.7" r="1.7"/><circle cx="963.3" cy="1512.3" r="1.7"/><circle cx="900.0" cy="1488.1" r="1.7"/><circle cx="938.9" cy="1509.1" r="1.7"/><circle cx="948.3" cy="1508.0" r="1.7"/><circle cx="961.0" cy="1513.9" r="1.7"/><circle cx="936.1" cy="1514.3" r="1.7"/><circle cx="909.2" cy="1504.4" r="1.7"/><circle cx="951.9" cy="1512.5" r="1.7"/><circle cx="949.9" cy="1497.2" r="1.7"/><circle cx="932.0" cy="1498.8" r="1.7"/><circle cx="887.6" cy="1491.1" r="1.7"/><circle cx="940.3" cy="1498.1" r="1.7"/><circle cx="936.8" cy="1513.1" r="1.7"/><circle cx="890.4" cy="1508.0" r="1.7"/><circle cx="895.8" cy="1491.1" r="1.7"/><circle cx="962.4" cy="1494.9" r="1.7"/><circle cx="913.9" cy="1500.5" r="1.7"/><circle cx="962.2" cy="1500.8" r="1.7"/><circle cx="965.0" cy="1487.8" r="1.7"/><circle cx="901.6" cy="1494.4" r="1.7"/><circle cx="888.7" cy="1502.7" r="1.7"/><circle cx="954.2" cy="1501.1" r="1.7"/><circle cx="956.9" cy="1507.3" r="1.7"/><circle cx="911.1" cy="1507.1" r="1.7"/><circle cx="924.9" cy="1507.7" r="1.7"/><circle cx="958.0" cy="1500.4" r="1.7"/><circle cx="938.8" cy="1502.9" r="1.7"/><circle cx="918.5" cy="1510.8" r="1.7"/><circle cx="956.6" cy="1509.9" r="1.7"/><circle cx="962.0" cy="1516.5" r="1.7"/><circle cx="892.4" cy="1504.1" r="1.7"/><circle cx="926.8" cy="1497.2" r="1.7"/></g>
<ellipse cx="896" cy="1496" rx="2.2" ry="3.5" fill="#fff" opacity="0.7"/>
<circle cx="895.0" cy="1515.5" r="3" fill="#7ab82e"/>
<path d="M971.0,1516.0 C972.5,1515.0 976.8,1510.5 980.0,1510.0 C983.2,1509.5 986.7,1512.8 990.0,1513.0 C993.3,1513.2 996.7,1510.7 1000.0,1511.0 C1003.3,1511.3 1006.7,1513.8 1010.0,1515.0 C1013.3,1516.2 1016.3,1516.5 1020.0,1518.0 C1023.7,1519.5 1028.3,1522.0 1032.0,1524.0 C1035.7,1526.0 1038.7,1527.7 1042.0,1530.0 C1045.3,1532.3 1048.7,1535.3 1052.0,1538.0 C1055.3,1540.7 1058.7,1543.7 1062.0,1546.0 C1065.3,1548.3 1070.0,1549.5 1072.0,1552.0 C1074.0,1554.5 1072.0,1558.5 1074.0,1561.0 C1076.0,1563.5 1080.3,1565.2 1084.0,1567.0 C1087.7,1568.8 1092.7,1569.8 1096.0,1572.0 C1099.3,1574.2 1103.7,1577.7 1104.0,1580.0 C1104.3,1582.3 1101.3,1585.3 1098.0,1586.0 C1094.7,1586.7 1088.7,1584.0 1084.0,1584.0 C1079.3,1584.0 1074.3,1586.2 1070.0,1586.0 C1065.7,1585.8 1062.0,1584.2 1058.0,1583.0 C1054.0,1581.8 1050.0,1580.3 1046.0,1579.0 C1042.0,1577.7 1038.0,1576.5 1034.0,1575.0 C1030.0,1573.5 1026.0,1571.5 1022.0,1570.0 C1018.0,1568.5 1014.0,1567.7 1010.0,1566.0 C1006.0,1564.3 1001.7,1562.3 998.0,1560.0 C994.3,1557.7 991.0,1554.3 988.0,1552.0 C985.0,1549.7 982.0,1548.3 980.0,1546.0 C978.0,1543.7 976.2,1540.7 976.0,1538.0 C975.8,1535.3 979.5,1532.3 979.0,1530.0 C978.5,1527.7 974.3,1526.3 973.0,1524.0 C971.7,1521.7 971.3,1517.3 971.0,1516.0Z" fill="#84bc30" opacity="0.6"/>
<g fill="#84bc30"><circle cx="1065.4" cy="1562.5" r="1.7"/><circle cx="1007.9" cy="1522.3" r="1.7"/><circle cx="1047.5" cy="1572.8" r="1.7"/><circle cx="989.6" cy="1549.2" r="1.7"/><circle cx="1010.6" cy="1539.1" r="1.7"/><circle cx="1099.6" cy="1583.1" r="1.7"/><circle cx="995.9" cy="1533.5" r="1.7"/><circle cx="1013.7" cy="1543.3" r="1.7"/><circle cx="985.4" cy="1529.8" r="1.7"/><circle cx="1023.4" cy="1539.3" r="1.7"/><circle cx="1030.9" cy="1573.6" r="1.7"/><circle cx="1055.7" cy="1569.2" r="1.7"/><circle cx="1012.9" cy="1521.6" r="1.7"/><circle cx="1045.3" cy="1561.0" r="1.7"/><circle cx="1041.4" cy="1531.9" r="1.7"/><circle cx="1006.3" cy="1528.5" r="1.7"/><circle cx="1071.2" cy="1561.5" r="1.7"/><circle cx="1025.9" cy="1571.4" r="1.7"/><circle cx="985.8" cy="1533.3" r="1.7"/><circle cx="1055.3" cy="1562.6" r="1.7"/><circle cx="1016.5" cy="1539.8" r="1.7"/><circle cx="1041.7" cy="1549.6" r="1.7"/><circle cx="1060.0" cy="1578.5" r="1.7"/><circle cx="988.8" cy="1535.7" r="1.7"/><circle cx="979.8" cy="1541.4" r="1.7"/><circle cx="1037.8" cy="1574.7" r="1.7"/><circle cx="1059.8" cy="1553.9" r="1.7"/><circle cx="1024.7" cy="1553.6" r="1.7"/><circle cx="1075.9" cy="1573.7" r="1.7"/><circle cx="1090.5" cy="1578.3" r="1.7"/><circle cx="1069.8" cy="1572.4" r="1.7"/><circle cx="1057.3" cy="1576.8" r="1.7"/><circle cx="1064.6" cy="1556.5" r="1.7"/><circle cx="1007.6" cy="1515.1" r="1.7"/><circle cx="1051.2" cy="1572.6" r="1.7"/><circle cx="1007.3" cy="1526.2" r="1.7"/><circle cx="1000.8" cy="1517.1" r="1.7"/><circle cx="989.5" cy="1530.9" r="1.7"/><circle cx="1044.8" cy="1571.4" r="1.7"/><circle cx="985.7" cy="1527.1" r="1.7"/><circle cx="1015.0" cy="1553.2" r="1.7"/><circle cx="1054.8" cy="1565.1" r="1.7"/><circle cx="1048.8" cy="1540.4" r="1.7"/><circle cx="1039.1" cy="1554.7" r="1.7"/><circle cx="1031.4" cy="1561.9" r="1.7"/><circle cx="1016.4" cy="1524.4" r="1.7"/><circle cx="1024.6" cy="1531.5" r="1.7"/><circle cx="1039.7" cy="1543.3" r="1.7"/><circle cx="997.2" cy="1530.2" r="1.7"/><circle cx="1045.5" cy="1563.3" r="1.7"/><circle cx="1097.1" cy="1579.9" r="1.7"/><circle cx="1067.1" cy="1564.7" r="1.7"/><circle cx="979.3" cy="1525.6" r="1.7"/><circle cx="1067.0" cy="1557.9" r="1.7"/><circle cx="1006.1" cy="1537.0" r="1.7"/><circle cx="976.9" cy="1523.3" r="1.7"/><circle cx="984.6" cy="1518.1" r="1.7"/><circle cx="1034.3" cy="1572.5" r="1.7"/><circle cx="988.1" cy="1518.3" r="1.7"/><circle cx="1045.9" cy="1548.6" r="1.7"/><circle cx="998.8" cy="1529.1" r="1.7"/><circle cx="1065.5" cy="1581.8" r="1.7"/><circle cx="1079.0" cy="1573.9" r="1.7"/><circle cx="999.5" cy="1554.5" r="1.7"/><circle cx="1081.4" cy="1569.7" r="1.7"/><circle cx="980.4" cy="1534.6" r="1.7"/><circle cx="1054.1" cy="1577.3" r="1.7"/><circle cx="1035.4" cy="1558.6" r="1.7"/><circle cx="998.4" cy="1528.5" r="1.7"/><circle cx="987.8" cy="1525.2" r="1.7"/><circle cx="1031.7" cy="1554.5" r="1.7"/><circle cx="1055.6" cy="1563.7" r="1.7"/><circle cx="1033.6" cy="1540.4" r="1.7"/><circle cx="1060.5" cy="1564.2" r="1.7"/><circle cx="1002.9" cy="1559.4" r="1.7"/><circle cx="1001.4" cy="1539.8" r="1.7"/><circle cx="1075.8" cy="1572.6" r="1.7"/><circle cx="1055.3" cy="1566.4" r="1.7"/><circle cx="976.1" cy="1517.1" r="1.7"/><circle cx="976.1" cy="1513.7" r="1.7"/><circle cx="1000.2" cy="1561.1" r="1.7"/><circle cx="992.7" cy="1548.9" r="1.7"/><circle cx="1089.3" cy="1579.6" r="1.7"/><circle cx="1044.9" cy="1572.4" r="1.7"/><circle cx="1037.8" cy="1557.1" r="1.7"/><circle cx="1050.1" cy="1570.8" r="1.7"/><circle cx="981.3" cy="1514.1" r="1.7"/><circle cx="1043.5" cy="1532.1" r="1.7"/><circle cx="1081.3" cy="1571.7" r="1.7"/><circle cx="1068.1" cy="1574.6" r="1.7"/><circle cx="1019.9" cy="1533.0" r="1.7"/><circle cx="981.0" cy="1518.6" r="1.7"/><circle cx="1063.1" cy="1555.5" r="1.7"/><circle cx="1040.2" cy="1544.6" r="1.7"/><circle cx="1025.2" cy="1556.4" r="1.7"/><circle cx="1057.3" cy="1579.6" r="1.7"/><circle cx="1068.4" cy="1570.5" r="1.7"/><circle cx="1092.4" cy="1573.6" r="1.7"/><circle cx="1061.6" cy="1574.6" r="1.7"/><circle cx="1029.8" cy="1563.7" r="1.7"/><circle cx="1004.6" cy="1532.8" r="1.7"/><circle cx="1017.3" cy="1534.7" r="1.7"/><circle cx="983.6" cy="1543.7" r="1.7"/><circle cx="1004.2" cy="1541.3" r="1.7"/><circle cx="1088.9" cy="1580.0" r="1.7"/><circle cx="1074.1" cy="1577.6" r="1.7"/><circle cx="1012.7" cy="1557.7" r="1.7"/><circle cx="1019.8" cy="1550.8" r="1.7"/><circle cx="1041.6" cy="1559.4" r="1.7"/><circle cx="1062.7" cy="1583.5" r="1.7"/><circle cx="982.9" cy="1526.1" r="1.7"/><circle cx="994.4" cy="1543.3" r="1.7"/><circle cx="1062.4" cy="1562.5" r="1.7"/><circle cx="1070.2" cy="1567.2" r="1.7"/><circle cx="1004.0" cy="1529.5" r="1.7"/><circle cx="998.8" cy="1529.7" r="1.7"/><circle cx="1049.6" cy="1559.9" r="1.7"/><circle cx="1050.5" cy="1562.8" r="1.7"/><circle cx="979.9" cy="1511.1" r="1.7"/><circle cx="1019.1" cy="1520.8" r="1.7"/><circle cx="986.0" cy="1547.5" r="1.7"/><circle cx="994.7" cy="1517.6" r="1.7"/><circle cx="1011.3" cy="1541.1" r="1.7"/><circle cx="1084.7" cy="1571.0" r="1.7"/><circle cx="1058.7" cy="1554.6" r="1.7"/><circle cx="990.1" cy="1517.4" r="1.7"/><circle cx="1057.7" cy="1553.3" r="1.7"/><circle cx="1000.7" cy="1514.9" r="1.7"/><circle cx="1019.4" cy="1564.9" r="1.7"/><circle cx="1004.5" cy="1537.8" r="1.7"/><circle cx="1008.9" cy="1538.9" r="1.7"/><circle cx="996.8" cy="1526.6" r="1.7"/><circle cx="1022.1" cy="1537.8" r="1.7"/><circle cx="1056.3" cy="1545.9" r="1.7"/><circle cx="1059.3" cy="1573.6" r="1.7"/><circle cx="1002.2" cy="1512.2" r="1.7"/><circle cx="1032.2" cy="1564.1" r="1.7"/><circle cx="983.5" cy="1519.0" r="1.7"/><circle cx="1001.7" cy="1543.5" r="1.7"/><circle cx="986.7" cy="1515.2" r="1.7"/><circle cx="1019.0" cy="1545.7" r="1.7"/><circle cx="980.5" cy="1526.9" r="1.7"/><circle cx="1070.0" cy="1552.8" r="1.7"/><circle cx="1086.7" cy="1583.1" r="1.7"/><circle cx="1002.9" cy="1523.0" r="1.7"/><circle cx="982.0" cy="1530.2" r="1.7"/><circle cx="1031.3" cy="1534.2" r="1.7"/><circle cx="1019.0" cy="1519.1" r="1.7"/><circle cx="1057.8" cy="1549.1" r="1.7"/><circle cx="1069.5" cy="1550.8" r="1.7"/><circle cx="1002.1" cy="1547.9" r="1.7"/><circle cx="1051.5" cy="1559.5" r="1.7"/><circle cx="1001.2" cy="1555.4" r="1.7"/><circle cx="999.9" cy="1512.7" r="1.7"/><circle cx="1024.5" cy="1561.6" r="1.7"/><circle cx="1002.0" cy="1546.3" r="1.7"/><circle cx="1013.8" cy="1540.9" r="1.7"/><circle cx="1016.6" cy="1560.8" r="1.7"/><circle cx="1005.3" cy="1544.5" r="1.7"/><circle cx="1045.7" cy="1564.1" r="1.7"/><circle cx="989.3" cy="1528.3" r="1.7"/><circle cx="990.8" cy="1520.4" r="1.7"/><circle cx="1040.5" cy="1554.2" r="1.7"/><circle cx="1002.2" cy="1522.7" r="1.7"/><circle cx="1048.9" cy="1544.4" r="1.7"/><circle cx="1059.0" cy="1575.4" r="1.7"/><circle cx="1009.5" cy="1532.0" r="1.7"/><circle cx="1099.6" cy="1576.2" r="1.7"/><circle cx="1026.9" cy="1550.2" r="1.7"/><circle cx="1083.9" cy="1571.3" r="1.7"/><circle cx="1057.9" cy="1549.0" r="1.7"/><circle cx="986.5" cy="1528.5" r="1.7"/><circle cx="1058.5" cy="1554.6" r="1.7"/><circle cx="1077.5" cy="1578.3" r="1.7"/><circle cx="1002.5" cy="1537.8" r="1.7"/><circle cx="1040.7" cy="1561.5" r="1.7"/><circle cx="1054.0" cy="1545.8" r="1.7"/><circle cx="1060.4" cy="1570.8" r="1.7"/><circle cx="1061.2" cy="1563.9" r="1.7"/><circle cx="1002.0" cy="1542.7" r="1.7"/><circle cx="1059.2" cy="1568.3" r="1.7"/><circle cx="988.0" cy="1526.9" r="1.7"/><circle cx="999.6" cy="1530.2" r="1.7"/><circle cx="975.7" cy="1520.3" r="1.7"/><circle cx="1025.0" cy="1542.0" r="1.7"/><circle cx="1018.3" cy="1563.5" r="1.7"/><circle cx="1029.2" cy="1523.3" r="1.7"/><circle cx="1073.0" cy="1573.5" r="1.7"/><circle cx="1056.4" cy="1558.2" r="1.7"/><circle cx="1064.8" cy="1583.4" r="1.7"/><circle cx="1011.0" cy="1529.4" r="1.7"/><circle cx="1084.0" cy="1576.5" r="1.7"/><circle cx="980.3" cy="1510.4" r="1.7"/><circle cx="1006.3" cy="1564.0" r="1.7"/><circle cx="1015.6" cy="1549.7" r="1.7"/><circle cx="1013.6" cy="1541.7" r="1.7"/><circle cx="1034.7" cy="1529.6" r="1.7"/><circle cx="978.3" cy="1516.4" r="1.7"/><circle cx="992.6" cy="1516.9" r="1.7"/><circle cx="1054.0" cy="1562.9" r="1.7"/><circle cx="977.8" cy="1521.7" r="1.7"/><circle cx="1077.0" cy="1571.0" r="1.7"/><circle cx="1077.9" cy="1570.1" r="1.7"/><circle cx="1001.8" cy="1517.1" r="1.7"/><circle cx="1059.2" cy="1552.9" r="1.7"/><circle cx="989.4" cy="1524.6" r="1.7"/><circle cx="1005.4" cy="1542.2" r="1.7"/><circle cx="1041.9" cy="1565.1" r="1.7"/><circle cx="1000.4" cy="1532.1" r="1.7"/><circle cx="1056.1" cy="1562.5" r="1.7"/><circle cx="1052.8" cy="1578.5" r="1.7"/><circle cx="998.2" cy="1533.6" r="1.7"/><circle cx="991.9" cy="1527.2" r="1.7"/><circle cx="1073.6" cy="1572.9" r="1.7"/><circle cx="1066.3" cy="1582.9" r="1.7"/><circle cx="1013.0" cy="1564.8" r="1.7"/><circle cx="982.9" cy="1513.7" r="1.7"/><circle cx="1094.9" cy="1576.7" r="1.7"/><circle cx="1032.4" cy="1525.0" r="1.7"/><circle cx="986.9" cy="1548.5" r="1.7"/><circle cx="1040.3" cy="1537.6" r="1.7"/><circle cx="1066.3" cy="1550.2" r="1.7"/><circle cx="980.3" cy="1539.4" r="1.7"/><circle cx="1035.3" cy="1529.2" r="1.7"/><circle cx="1013.3" cy="1546.2" r="1.7"/><circle cx="1065.7" cy="1568.5" r="1.7"/><circle cx="1020.4" cy="1544.0" r="1.7"/><circle cx="1094.4" cy="1581.0" r="1.7"/><circle cx="1031.6" cy="1558.4" r="1.7"/><circle cx="1101.5" cy="1579.1" r="1.7"/><circle cx="988.2" cy="1545.4" r="1.7"/><circle cx="982.4" cy="1539.9" r="1.7"/><circle cx="985.2" cy="1515.4" r="1.7"/><circle cx="992.8" cy="1550.4" r="1.7"/><circle cx="1027.6" cy="1535.7" r="1.7"/><circle cx="987.4" cy="1528.5" r="1.7"/><circle cx="1089.6" cy="1578.7" r="1.7"/><circle cx="1032.9" cy="1564.4" r="1.7"/><circle cx="1016.1" cy="1528.8" r="1.7"/><circle cx="1004.9" cy="1545.7" r="1.7"/><circle cx="1016.4" cy="1524.3" r="1.7"/><circle cx="1051.7" cy="1578.4" r="1.7"/><circle cx="1083.8" cy="1572.2" r="1.7"/><circle cx="1006.4" cy="1537.8" r="1.7"/><circle cx="1020.8" cy="1536.8" r="1.7"/><circle cx="1025.6" cy="1558.3" r="1.7"/><circle cx="1067.8" cy="1567.4" r="1.7"/><circle cx="1042.7" cy="1535.6" r="1.7"/><circle cx="1083.2" cy="1574.4" r="1.7"/><circle cx="1061.0" cy="1559.6" r="1.7"/><circle cx="1043.9" cy="1544.6" r="1.7"/><circle cx="1075.0" cy="1576.1" r="1.7"/><circle cx="999.5" cy="1535.9" r="1.7"/><circle cx="1004.2" cy="1517.6" r="1.7"/><circle cx="980.4" cy="1515.1" r="1.7"/><circle cx="1032.5" cy="1540.5" r="1.7"/><circle cx="1077.7" cy="1582.5" r="1.7"/><circle cx="1012.2" cy="1558.1" r="1.7"/><circle cx="1049.1" cy="1573.0" r="1.7"/><circle cx="1040.0" cy="1546.8" r="1.7"/><circle cx="1019.2" cy="1537.6" r="1.7"/><circle cx="1028.5" cy="1564.5" r="1.7"/><circle cx="1040.6" cy="1572.4" r="1.7"/><circle cx="1028.7" cy="1538.9" r="1.7"/><circle cx="1065.4" cy="1580.7" r="1.7"/><circle cx="997.8" cy="1532.9" r="1.7"/><circle cx="1014.8" cy="1565.6" r="1.7"/><circle cx="995.8" cy="1551.6" r="1.7"/><circle cx="1037.5" cy="1560.8" r="1.7"/><circle cx="1072.0" cy="1576.0" r="1.7"/><circle cx="998.6" cy="1511.8" r="1.7"/><circle cx="1090.8" cy="1582.6" r="1.7"/><circle cx="1054.9" cy="1571.1" r="1.7"/><circle cx="1027.4" cy="1555.8" r="1.7"/><circle cx="1005.5" cy="1531.0" r="1.7"/><circle cx="1026.9" cy="1549.0" r="1.7"/><circle cx="1066.3" cy="1566.9" r="1.7"/><circle cx="1002.5" cy="1529.4" r="1.7"/><circle cx="1051.2" cy="1578.7" r="1.7"/><circle cx="997.9" cy="1554.5" r="1.7"/><circle cx="1066.9" cy="1566.9" r="1.7"/><circle cx="1065.7" cy="1564.0" r="1.7"/><circle cx="982.5" cy="1515.3" r="1.7"/><circle cx="989.9" cy="1545.0" r="1.7"/><circle cx="1003.6" cy="1525.1" r="1.7"/><circle cx="992.4" cy="1541.2" r="1.7"/><circle cx="992.5" cy="1526.6" r="1.7"/><circle cx="982.3" cy="1524.7" r="1.7"/><circle cx="1013.0" cy="1548.3" r="1.7"/><circle cx="995.4" cy="1546.5" r="1.7"/><circle cx="1033.7" cy="1525.0" r="1.7"/><circle cx="993.5" cy="1515.6" r="1.7"/><circle cx="1064.3" cy="1583.5" r="1.7"/><circle cx="1024.7" cy="1536.9" r="1.7"/><circle cx="1027.5" cy="1536.8" r="1.7"/><circle cx="1018.1" cy="1557.9" r="1.7"/><circle cx="1028.5" cy="1532.7" r="1.7"/><circle cx="1044.7" cy="1560.4" r="1.7"/><circle cx="1068.8" cy="1582.1" r="1.7"/><circle cx="990.3" cy="1537.8" r="1.7"/><circle cx="1084.3" cy="1570.1" r="1.7"/><circle cx="1049.5" cy="1561.5" r="1.7"/><circle cx="1044.1" cy="1540.6" r="1.7"/><circle cx="995.3" cy="1518.8" r="1.7"/><circle cx="1090.4" cy="1570.8" r="1.7"/><circle cx="1034.8" cy="1547.7" r="1.7"/><circle cx="1017.5" cy="1550.4" r="1.7"/><circle cx="1034.4" cy="1535.3" r="1.7"/><circle cx="1022.5" cy="1556.3" r="1.7"/><circle cx="1020.3" cy="1539.5" r="1.7"/><circle cx="1042.7" cy="1531.0" r="1.7"/><circle cx="973.9" cy="1524.7" r="1.7"/><circle cx="990.5" cy="1527.3" r="1.7"/><circle cx="1068.5" cy="1564.7" r="1.7"/><circle cx="1092.1" cy="1582.0" r="1.7"/><circle cx="1028.7" cy="1524.7" r="1.7"/><circle cx="1070.5" cy="1575.3" r="1.7"/><circle cx="976.1" cy="1514.3" r="1.7"/><circle cx="1065.2" cy="1557.9" r="1.7"/><circle cx="985.9" cy="1522.3" r="1.7"/><circle cx="995.1" cy="1556.3" r="1.7"/><circle cx="1028.8" cy="1539.7" r="1.7"/><circle cx="1004.7" cy="1527.7" r="1.7"/><circle cx="994.9" cy="1521.6" r="1.7"/><circle cx="1017.7" cy="1566.0" r="1.7"/><circle cx="1029.5" cy="1570.1" r="1.7"/><circle cx="1047.6" cy="1544.3" r="1.7"/><circle cx="1015.8" cy="1540.1" r="1.7"/><circle cx="1096.5" cy="1575.3" r="1.7"/><circle cx="989.9" cy="1523.3" r="1.7"/><circle cx="1022.0" cy="1562.5" r="1.7"/><circle cx="1026.1" cy="1560.9" r="1.7"/><circle cx="1046.8" cy="1565.4" r="1.7"/><circle cx="1098.1" cy="1580.6" r="1.7"/><circle cx="1021.1" cy="1530.4" r="1.7"/><circle cx="1091.2" cy="1570.2" r="1.7"/><circle cx="1075.8" cy="1572.4" r="1.7"/><circle cx="1005.9" cy="1556.4" r="1.7"/><circle cx="1036.0" cy="1530.9" r="1.7"/><circle cx="1047.3" cy="1578.9" r="1.7"/><circle cx="1049.0" cy="1542.5" r="1.7"/><circle cx="1007.8" cy="1518.6" r="1.7"/><circle cx="1068.1" cy="1559.3" r="1.7"/><circle cx="984.0" cy="1547.5" r="1.7"/><circle cx="1027.8" cy="1553.5" r="1.7"/><circle cx="1078.5" cy="1567.6" r="1.7"/><circle cx="1032.8" cy="1545.6" r="1.7"/><circle cx="1066.6" cy="1565.4" r="1.7"/><circle cx="995.6" cy="1520.4" r="1.7"/><circle cx="995.7" cy="1548.0" r="1.7"/><circle cx="1015.7" cy="1522.4" r="1.7"/><circle cx="1054.9" cy="1550.5" r="1.7"/><circle cx="1032.6" cy="1572.5" r="1.7"/><circle cx="1098.9" cy="1580.2" r="1.7"/><circle cx="1044.7" cy="1540.8" r="1.7"/><circle cx="993.3" cy="1520.4" r="1.7"/><circle cx="1033.5" cy="1547.5" r="1.7"/><circle cx="1006.6" cy="1537.9" r="1.7"/><circle cx="1044.7" cy="1567.9" r="1.7"/><circle cx="1098.7" cy="1584.6" r="1.7"/><circle cx="1043.8" cy="1533.9" r="1.7"/><circle cx="974.8" cy="1525.5" r="1.7"/><circle cx="987.5" cy="1531.6" r="1.7"/><circle cx="1054.7" cy="1552.8" r="1.7"/><circle cx="1055.3" cy="1551.3" r="1.7"/><circle cx="1018.9" cy="1556.0" r="1.7"/><circle cx="979.6" cy="1510.7" r="1.7"/><circle cx="1062.0" cy="1580.4" r="1.7"/><circle cx="1049.4" cy="1572.7" r="1.7"/><circle cx="1039.6" cy="1534.6" r="1.7"/><circle cx="1007.0" cy="1521.2" r="1.7"/><circle cx="1019.4" cy="1560.3" r="1.7"/><circle cx="1097.8" cy="1585.5" r="1.7"/><circle cx="1067.6" cy="1551.9" r="1.7"/><circle cx="1004.9" cy="1520.8" r="1.7"/><circle cx="992.0" cy="1521.4" r="1.7"/><circle cx="1049.3" cy="1570.9" r="1.7"/><circle cx="992.3" cy="1548.2" r="1.7"/><circle cx="1047.4" cy="1552.6" r="1.7"/><circle cx="1025.9" cy="1551.3" r="1.7"/><circle cx="1027.2" cy="1528.0" r="1.7"/><circle cx="983.3" cy="1546.3" r="1.7"/><circle cx="1022.5" cy="1535.5" r="1.7"/><circle cx="1060.1" cy="1573.4" r="1.7"/><circle cx="1031.2" cy="1548.2" r="1.7"/><circle cx="995.1" cy="1515.3" r="1.7"/><circle cx="981.9" cy="1535.2" r="1.7"/><circle cx="1027.3" cy="1533.4" r="1.7"/><circle cx="1003.5" cy="1521.8" r="1.7"/><circle cx="1011.6" cy="1534.6" r="1.7"/><circle cx="1028.0" cy="1522.6" r="1.7"/><circle cx="977.0" cy="1519.3" r="1.7"/><circle cx="1015.6" cy="1517.8" r="1.7"/><circle cx="1069.8" cy="1564.5" r="1.7"/><circle cx="1000.6" cy="1540.3" r="1.7"/><circle cx="997.4" cy="1516.7" r="1.7"/><circle cx="1015.6" cy="1530.2" r="1.7"/><circle cx="1024.3" cy="1562.3" r="1.7"/><circle cx="1102.8" cy="1579.9" r="1.7"/><circle cx="984.3" cy="1548.2" r="1.7"/><circle cx="1060.1" cy="1547.7" r="1.7"/><circle cx="1095.2" cy="1571.9" r="1.7"/><circle cx="1062.2" cy="1563.0" r="1.7"/><circle cx="1048.5" cy="1564.9" r="1.7"/><circle cx="1017.3" cy="1562.9" r="1.7"/><circle cx="1019.8" cy="1564.1" r="1.7"/><circle cx="1021.6" cy="1561.0" r="1.7"/><circle cx="997.1" cy="1549.4" r="1.7"/><circle cx="1035.2" cy="1535.6" r="1.7"/><circle cx="1020.7" cy="1548.8" r="1.7"/><circle cx="1007.9" cy="1548.2" r="1.7"/><circle cx="1038.0" cy="1541.8" r="1.7"/><circle cx="1041.7" cy="1531.0" r="1.7"/><circle cx="1073.4" cy="1563.5" r="1.7"/><circle cx="1038.9" cy="1538.5" r="1.7"/><circle cx="1009.6" cy="1540.6" r="1.7"/><circle cx="1065.3" cy="1572.2" r="1.7"/><circle cx="1035.2" cy="1565.6" r="1.7"/><circle cx="999.3" cy="1544.4" r="1.7"/><circle cx="1018.6" cy="1533.3" r="1.7"/><circle cx="1018.8" cy="1567.4" r="1.7"/><circle cx="1058.1" cy="1561.4" r="1.7"/><circle cx="1055.5" cy="1562.7" r="1.7"/><circle cx="1007.3" cy="1514.6" r="1.7"/><circle cx="1060.1" cy="1583.5" r="1.7"/><circle cx="1015.8" cy="1518.3" r="1.7"/><circle cx="1076.8" cy="1566.0" r="1.7"/><circle cx="1035.9" cy="1538.1" r="1.7"/><circle cx="1006.9" cy="1547.0" r="1.7"/><circle cx="1065.7" cy="1578.0" r="1.7"/><circle cx="1083.9" cy="1575.9" r="1.7"/><circle cx="1029.4" cy="1542.0" r="1.7"/><circle cx="995.4" cy="1522.0" r="1.7"/><circle cx="1084.3" cy="1577.7" r="1.7"/><circle cx="1027.8" cy="1524.6" r="1.7"/><circle cx="1029.5" cy="1540.2" r="1.7"/><circle cx="1020.4" cy="1567.9" r="1.7"/><circle cx="1015.3" cy="1561.6" r="1.7"/><circle cx="1048.9" cy="1553.7" r="1.7"/><circle cx="1014.3" cy="1559.0" r="1.7"/><circle cx="1051.1" cy="1548.8" r="1.7"/><circle cx="987.3" cy="1526.2" r="1.7"/><circle cx="1012.4" cy="1541.6" r="1.7"/><circle cx="1003.4" cy="1554.6" r="1.7"/><circle cx="1076.9" cy="1571.6" r="1.7"/><circle cx="978.2" cy="1538.9" r="1.7"/><circle cx="1001.3" cy="1557.5" r="1.7"/><circle cx="1074.5" cy="1574.0" r="1.7"/><circle cx="1043.9" cy="1539.4" r="1.7"/><circle cx="983.1" cy="1545.1" r="1.7"/><circle cx="983.4" cy="1516.9" r="1.7"/><circle cx="1020.1" cy="1542.9" r="1.7"/><circle cx="1038.5" cy="1532.0" r="1.7"/><circle cx="1064.4" cy="1549.2" r="1.7"/><circle cx="1038.9" cy="1547.5" r="1.7"/><circle cx="1018.6" cy="1535.5" r="1.7"/><circle cx="1052.8" cy="1552.8" r="1.7"/><circle cx="1008.8" cy="1516.4" r="1.7"/><circle cx="1041.8" cy="1534.9" r="1.7"/><circle cx="1016.0" cy="1541.7" r="1.7"/><circle cx="1024.5" cy="1522.3" r="1.7"/><circle cx="1059.1" cy="1560.5" r="1.7"/><circle cx="1030.4" cy="1540.8" r="1.7"/><circle cx="1031.8" cy="1573.2" r="1.7"/><circle cx="1020.9" cy="1565.7" r="1.7"/><circle cx="1060.9" cy="1547.8" r="1.7"/><circle cx="1038.8" cy="1533.9" r="1.7"/><circle cx="1035.3" cy="1556.9" r="1.7"/><circle cx="988.9" cy="1533.5" r="1.7"/><circle cx="1061.3" cy="1551.5" r="1.7"/><circle cx="1053.0" cy="1569.3" r="1.7"/><circle cx="1029.9" cy="1573.1" r="1.7"/><circle cx="1046.4" cy="1567.2" r="1.7"/><circle cx="1019.4" cy="1544.1" r="1.7"/><circle cx="1095.2" cy="1583.9" r="1.7"/><circle cx="1029.5" cy="1573.1" r="1.7"/><circle cx="1062.6" cy="1550.5" r="1.7"/><circle cx="979.8" cy="1515.5" r="1.7"/><circle cx="992.2" cy="1532.2" r="1.7"/><circle cx="1091.4" cy="1576.1" r="1.7"/><circle cx="1094.2" cy="1571.6" r="1.7"/><circle cx="1044.4" cy="1556.5" r="1.7"/><circle cx="1000.8" cy="1526.5" r="1.7"/></g>
<path d="M974.0,1516.0 C975.3,1515.3 980.0,1512.0 982.0,1512.0 C984.0,1512.0 985.7,1514.0 986.0,1516.0 C986.3,1518.0 985.5,1522.8 984.0,1524.0 C982.5,1525.2 978.7,1524.3 977.0,1523.0 C975.3,1521.7 974.5,1517.2 974.0,1516.0Z" fill="#80b834" opacity="1.0"/>
<circle cx="998.0" cy="1510.0" r="2.2" fill="#78bcd0"/>
<circle cx="1012.0" cy="1509.0" r="2.2" fill="#78bcd0"/>
<circle cx="1020.0" cy="1513.0" r="2.2" fill="#78bcd0"/>
<circle cx="1034.0" cy="1526.0" r="2.2" fill="#78bcd0"/>
<path d="M1016.0,1541.0 C1017.7,1540.5 1022.7,1537.8 1026.0,1538.0 C1029.3,1538.2 1033.7,1539.7 1036.0,1542.0 C1038.3,1544.3 1040.3,1549.3 1040.0,1552.0 C1039.7,1554.7 1037.0,1557.2 1034.0,1558.0 C1031.0,1558.8 1025.0,1558.3 1022.0,1557.0 C1019.0,1555.7 1017.0,1552.7 1016.0,1550.0 C1015.0,1547.3 1016.0,1542.5 1016.0,1541.0Z" fill="#e6e01e" opacity="1.0"/>
<path d="M1032.0,1545.0 C1034.0,1544.3 1040.0,1540.8 1044.0,1541.0 C1048.0,1541.2 1052.0,1544.2 1056.0,1546.0 C1060.0,1547.8 1065.3,1549.3 1068.0,1552.0 C1070.7,1554.7 1072.7,1559.0 1072.0,1562.0 C1071.3,1565.0 1067.7,1568.3 1064.0,1570.0 C1060.3,1571.7 1054.3,1572.7 1050.0,1572.0 C1045.7,1571.3 1041.0,1568.7 1038.0,1566.0 C1035.0,1563.3 1033.0,1559.5 1032.0,1556.0 C1031.0,1552.5 1032.0,1546.8 1032.0,1545.0Z" fill="#ee8a26" opacity="1.0"/>
<path d="M1054.0,1548.0 C1055.3,1547.8 1059.7,1546.3 1062.0,1547.0 C1064.3,1547.7 1067.7,1550.2 1068.0,1552.0 C1068.3,1553.8 1065.8,1557.3 1064.0,1558.0 C1062.2,1558.7 1058.7,1557.7 1057.0,1556.0 C1055.3,1554.3 1054.5,1549.3 1054.0,1548.0Z" fill="#e8c828" opacity="1.0"/>
<path d="M1032.0,1558.0 C1034.3,1558.3 1041.3,1558.8 1046.0,1560.0 C1050.7,1561.2 1055.2,1564.0 1060.0,1565.0 C1064.8,1566.0 1070.3,1565.3 1075.0,1566.0 C1079.7,1566.7 1084.2,1567.7 1088.0,1569.0 C1091.8,1570.3 1095.3,1572.2 1098.0,1574.0 C1100.7,1575.8 1104.0,1578.0 1104.0,1580.0 C1104.0,1582.0 1101.3,1585.3 1098.0,1586.0 C1094.7,1586.7 1088.7,1584.0 1084.0,1584.0 C1079.3,1584.0 1074.3,1586.3 1070.0,1586.0 C1065.7,1585.7 1062.2,1583.7 1058.0,1582.0 C1053.8,1580.3 1048.7,1578.3 1045.0,1576.0 C1041.3,1573.7 1038.2,1571.0 1036.0,1568.0 C1033.8,1565.0 1032.7,1559.7 1032.0,1558.0Z" fill="#e02a22" opacity="1.0"/>
<path d="M1054.0,1586.0 C1055.3,1585.7 1060.0,1583.3 1062.0,1584.0 C1064.0,1584.7 1066.0,1588.0 1066.0,1590.0 C1066.0,1592.0 1063.8,1595.3 1062.0,1596.0 C1060.2,1596.7 1056.3,1595.7 1055.0,1594.0 C1053.7,1592.3 1054.2,1587.3 1054.0,1586.0Z" fill="#e02a22" opacity="1.0"/>
<polyline points="1074.0,1595.0 1083.0,1595.5" fill="none" stroke="#e02a22" stroke-width="4" stroke-linecap="round" stroke-linejoin="round" opacity="1.0"/>
<line x1="141.5" y1="1195.2" x2="1252.5" y2="1652.9" stroke="#6e6e6e" stroke-width="2.4" opacity="0.7"/>
<polygon points="401.9,1304.5 385.5,1327.5 416.5,1327.5" fill="none" stroke="#333" stroke-width="3"/>
<circle cx="400.7" cy="1319.6" r="1.5" fill="#6060a0"/>
<rect x="709.8" y="1355.6" width="24.6" height="24.6" fill="none" stroke="#3c3c3c" stroke-width="3"/>
<circle cx="716" cy="1361" r="1.8" fill="#7aa6d8" opacity="0.8"/>
<circle cx="722" cy="1364" r="1.8" fill="#7aa6d8" opacity="0.8"/>
<circle cx="728" cy="1365" r="1.8" fill="#7aa6d8" opacity="0.8"/>
<circle cx="719" cy="1369" r="1.8" fill="#7aa6d8" opacity="0.8"/>
<circle cx="725" cy="1371" r="1.8" fill="#7aa6d8" opacity="0.8"/>
<rect x="915.6" y="1457.6" width="24.8" height="24.4" fill="none" stroke="#3c3c3c" stroke-width="3"/>
<circle cx="922" cy="1468" r="1.7" fill="#78bcd0" opacity="0.8"/>
<circle cx="927" cy="1466" r="1.7" fill="#78bcd0" opacity="0.8"/>
<circle cx="932" cy="1469" r="1.7" fill="#78bcd0" opacity="0.8"/>
<circle cx="936" cy="1472" r="1.7" fill="#78bcd0" opacity="0.8"/>
</svg></body></html>
